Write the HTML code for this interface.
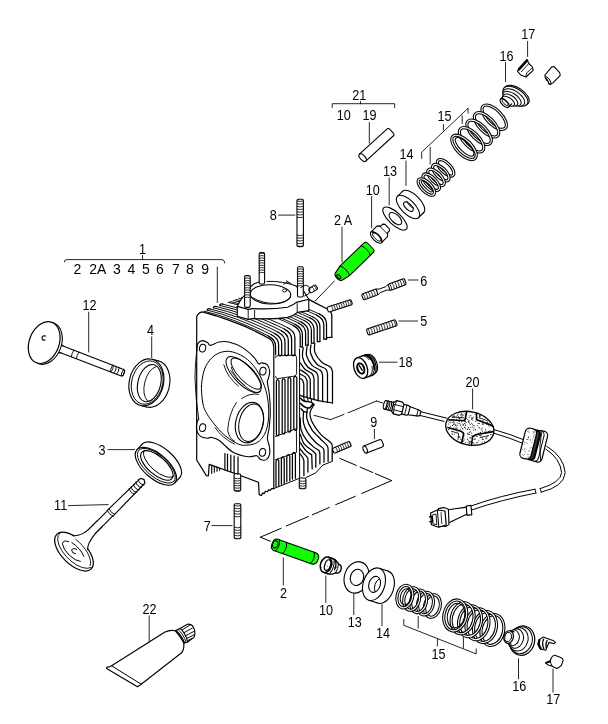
<!DOCTYPE html>
<html><head><meta charset="utf-8"><title>Cylinder head parts diagram</title>
<style>
html,body{margin:0;padding:0;background:#fff}
svg{display:block}
svg text{font-family:"Liberation Sans",sans-serif;fill:#000;stroke:none;filter:grayscale(1)}
</style></head><body>
<svg width="608" height="724" viewBox="0 0 608 724" stroke="#000" stroke-linecap="round" stroke-linejoin="round" fill="none">
<rect x="0" y="0" width="608" height="724" fill="#fff" stroke="none"/>
<text transform="translate(142.6 253.8) scale(0.9 1)" font-size="14" text-anchor="middle" >1</text>
<path d="M64.2,262 Q64.2,259.6 67,259.6 L222,259.6 Q224.7,259.6 224.7,263" fill="none" stroke-width="0.85" />
<line x1="142.6" y1="255.3" x2="142.6" y2="259.6" stroke-width="0.85" />
<text transform="translate(77.4 274.4) scale(1.0 1)" font-size="14" text-anchor="middle" >2</text>
<text transform="translate(97.8 274.4) scale(1.0 1)" font-size="14" text-anchor="middle" >2A</text>
<text transform="translate(117.0 274.4) scale(1.0 1)" font-size="14" text-anchor="middle" >3</text>
<text transform="translate(131.3 274.4) scale(1.0 1)" font-size="14" text-anchor="middle" >4</text>
<text transform="translate(145.8 274.4) scale(1.0 1)" font-size="14" text-anchor="middle" >5</text>
<text transform="translate(160.0 274.4) scale(1.0 1)" font-size="14" text-anchor="middle" >6</text>
<text transform="translate(175.9 274.4) scale(1.0 1)" font-size="14" text-anchor="middle" >7</text>
<text transform="translate(189.9 274.4) scale(1.0 1)" font-size="14" text-anchor="middle" >8</text>
<text transform="translate(205.2 274.4) scale(1.0 1)" font-size="14" text-anchor="middle" >9</text>
<line x1="217.3" y1="267.0" x2="217.3" y2="302.5" stroke-width="0.85" />
<text transform="translate(89.5 309.8) scale(0.9 1)" font-size="14" text-anchor="middle" >12</text>
<text transform="translate(150.4 334.8) scale(0.9 1)" font-size="14" text-anchor="middle" >4</text>
<text transform="translate(102.0 454.6) scale(0.9 1)" font-size="14" text-anchor="middle" >3</text>
<text transform="translate(60.6 510.1) scale(0.9 1)" font-size="14" text-anchor="middle" >11</text>
<text transform="translate(207.3 530.7) scale(0.9 1)" font-size="14" text-anchor="middle" >7</text>
<text transform="translate(149.6 613.8) scale(0.9 1)" font-size="14" text-anchor="middle" >22</text>
<text transform="translate(283.4 598.1) scale(0.9 1)" font-size="14" text-anchor="middle" >2</text>
<text transform="translate(326.0 614.6) scale(0.9 1)" font-size="14" text-anchor="middle" >10</text>
<text transform="translate(354.7 626.5) scale(0.9 1)" font-size="14" text-anchor="middle" >13</text>
<text transform="translate(383.0 637.8) scale(0.9 1)" font-size="14" text-anchor="middle" >14</text>
<text transform="translate(438.4 658.9) scale(0.9 1)" font-size="14" text-anchor="middle" >15</text>
<text transform="translate(519.3 690.8) scale(0.9 1)" font-size="14" text-anchor="middle" >16</text>
<text transform="translate(553.2 704.2) scale(0.9 1)" font-size="14" text-anchor="middle" >17</text>
<text transform="translate(472.6 387.0) scale(0.9 1)" font-size="14" text-anchor="middle" >20</text>
<text transform="translate(373.8 426.9) scale(0.9 1)" font-size="14" text-anchor="middle" >9</text>
<text transform="translate(405.6 367.2) scale(0.9 1)" font-size="14" text-anchor="middle" >18</text>
<text transform="translate(423.7 326.1) scale(0.9 1)" font-size="14" text-anchor="middle" >5</text>
<text transform="translate(423.7 285.6) scale(0.9 1)" font-size="14" text-anchor="middle" >6</text>
<text transform="translate(273.2 219.6) scale(0.9 1)" font-size="14" text-anchor="middle" >8</text>
<text transform="translate(343.1 225.1) scale(0.9 1)" font-size="14" text-anchor="middle" >2 A</text>
<text transform="translate(372.7 195.1) scale(0.9 1)" font-size="14" text-anchor="middle" >10</text>
<text transform="translate(390.0 176.3) scale(0.9 1)" font-size="14" text-anchor="middle" >13</text>
<text transform="translate(406.6 159.4) scale(0.9 1)" font-size="14" text-anchor="middle" >14</text>
<text transform="translate(444.4 120.7) scale(0.9 1)" font-size="14" text-anchor="middle" >15</text>
<text transform="translate(506.5 60.6) scale(0.9 1)" font-size="14" text-anchor="middle" >16</text>
<text transform="translate(528.2 39.4) scale(0.9 1)" font-size="14" text-anchor="middle" >17</text>
<text transform="translate(359.2 99.8) scale(0.9 1)" font-size="14" text-anchor="middle" >21</text>
<text transform="translate(343.7 119.6) scale(0.9 1)" font-size="14" text-anchor="middle" >10</text>
<text transform="translate(369.4 120.0) scale(0.9 1)" font-size="14" text-anchor="middle" >19</text>
<line x1="88.7" y1="312.1" x2="88.7" y2="352.0" stroke-width="0.85" />
<line x1="151.7" y1="336.8" x2="151.7" y2="357.6" stroke-width="0.85" />
<line x1="108.0" y1="449.6" x2="134.5" y2="449.6" stroke-width="0.85" />
<line x1="68.5" y1="505.6" x2="108.0" y2="504.6" stroke-width="0.85" />
<line x1="211.8" y1="525.6" x2="232.0" y2="525.6" stroke-width="0.85" />
<line x1="149.2" y1="615.9" x2="149.2" y2="641.3" stroke-width="0.85" />
<line x1="283.3" y1="557.7" x2="283.3" y2="585.0" stroke-width="0.85" />
<line x1="325.8" y1="576.0" x2="325.8" y2="602.6" stroke-width="0.85" />
<line x1="353.8" y1="593.3" x2="353.8" y2="614.6" stroke-width="0.85" />
<line x1="382.0" y1="604.1" x2="382.0" y2="625.8" stroke-width="0.85" />
<line x1="518.5" y1="658.7" x2="518.5" y2="678.8" stroke-width="0.85" />
<line x1="553.0" y1="669.0" x2="553.0" y2="692.2" stroke-width="0.85" />
<line x1="472.6" y1="389.0" x2="472.6" y2="409.0" stroke-width="0.85" />
<line x1="374.4" y1="429.3" x2="374.4" y2="438.7" stroke-width="0.85" />
<line x1="379.3" y1="362.2" x2="397.1" y2="362.2" stroke-width="0.85" />
<line x1="398.9" y1="321.0" x2="417.7" y2="321.0" stroke-width="0.85" />
<line x1="408.2" y1="280.0" x2="418.1" y2="280.0" stroke-width="0.85" />
<line x1="278.5" y1="215.1" x2="294.9" y2="215.1" stroke-width="0.85" />
<line x1="342.0" y1="227.0" x2="342.0" y2="262.0" stroke-width="0.85" />
<line x1="371.6" y1="196.6" x2="371.6" y2="228.0" stroke-width="0.85" />
<line x1="389.2" y1="177.8" x2="389.2" y2="205.0" stroke-width="0.85" />
<line x1="406.0" y1="161.0" x2="406.0" y2="185.5" stroke-width="0.85" />
<line x1="505.5" y1="62.5" x2="505.5" y2="81.6" stroke-width="0.85" />
<line x1="527.6" y1="41.4" x2="527.6" y2="56.5" stroke-width="0.85" />
<line x1="369.3" y1="122.5" x2="369.3" y2="143.2" stroke-width="0.85" />
<path d="M332.2,107.6 L332.2,103.7 L394.6,103.7 L394.6,107.6" fill="none" stroke-width="0.85" />
<line x1="360.5" y1="101.5" x2="360.5" y2="103.7" stroke-width="0.85" />
<path d="M421.7,158.5 L421.7,152.2 L468.1,108.2 L468.1,113" fill="none" stroke-width="0.85" />
<line x1="443.4" y1="124.5" x2="443.4" y2="130.0" stroke-width="0.85" />
<line x1="430.2" y1="147.2" x2="430.2" y2="164.0" stroke-width="0.85" />
<line x1="462.2" y1="115.7" x2="462.2" y2="123.5" stroke-width="0.85" />
<path d="M403.8,619.3 L403.8,625.3 L476.2,653.9 L476.2,648.9" fill="none" stroke-width="0.85" />
<line x1="437.4" y1="639.1" x2="437.4" y2="646.0" stroke-width="0.85" />
<line x1="418.2" y1="616.4" x2="418.2" y2="628.2" stroke-width="0.85" />
<line x1="463.4" y1="637.1" x2="463.4" y2="648.0" stroke-width="0.85" />
<path d="M196.8,316.0 L198.4,313.2 L205.6,311.4 L237.0,300.5 L244.0,295.0 L254.0,283.5 L264.0,281.0 L303.0,289.0 L309.0,299.0 L315.0,302.5 L328.0,309.0 L332.0,315.0 L332.0,336.6 L315.0,343.5 L315.0,352.0 L321.5,362.0 L331.4,367.6 L332.5,372.0 L332.5,403.0 L312.0,404.0 L310.5,412.0 L316.0,424.0 L326.0,436.0 L332.2,444.0 L332.2,461.4 L323.0,465.0 L315.6,473.0 L306.0,477.4 L298.0,478.8 L273.6,488.6 L261.0,495.6 L258.6,482.4 L209.2,464.4 L208.2,476.0 L206.2,475.4 L196.6,460.0 Z" fill="#fff" stroke-width="0" stroke="none"/>
<path d="M204.3,311.2 L218.6,315.2 L232.8,320.0 L247.1,325.8 L261.3,332.4 L268.5,336.1" fill="none" stroke-width="0.95" />
<path d="M268.5,336.1 Q275.6,340.0 275.6,346.0 L275.6,354.5" fill="none" stroke-width="1.25" />
<path d="M207.2,310.1 L221.5,314.0 L235.8,318.9 L250.0,324.6 L264.3,331.2 L271.5,334.8" fill="none" stroke-width="0.95" />
<path d="M271.5,334.8 Q278.6,338.6 278.6,344.6 L278.6,354.5" fill="none" stroke-width="1.25" />
<path d="M210.2,309.0 L224.5,312.9 L238.8,317.6 L253.1,323.3 L267.4,329.8 L274.5,333.4" fill="none" stroke-width="0.95" />
<path d="M274.5,333.4 Q281.7,337.3 281.7,343.3 L281.7,354.5" fill="none" stroke-width="1.25" />
<path d="M207.2,310.1 Q207.4,308.1 210.2,309.0" fill="none" stroke-width="1.25" />
<path d="M278.6,354.5 Q280.1,357.4 281.7,354.5" fill="none" stroke-width="1.25" />
<path d="M213.4,307.8 L227.7,311.6 L242.0,316.3 L256.3,321.9 L270.7,328.4 L277.8,332.0" fill="none" stroke-width="0.95" />
<path d="M277.8,332.0 Q285.0,335.8 285.0,341.8 L285.0,354.5" fill="none" stroke-width="1.25" />
<path d="M216.5,306.6 L230.9,310.4 L245.2,315.0 L259.6,320.6 L273.9,327.0 L281.1,330.6" fill="none" stroke-width="0.95" />
<path d="M281.1,330.6 Q288.3,334.3 288.3,340.3 L288.3,354.5" fill="none" stroke-width="1.25" />
<path d="M213.4,307.8 Q213.6,305.8 216.5,306.6" fill="none" stroke-width="1.25" />
<path d="M285.0,354.5 Q286.6,357.4 288.3,354.5" fill="none" stroke-width="1.25" />
<path d="M219.7,305.4 L234.1,309.1 L248.5,313.7 L262.8,319.2 L277.2,325.6 L284.4,329.1" fill="none" stroke-width="0.95" />
<path d="M284.4,329.1 Q291.6,332.9 291.6,338.9 L291.6,354.5" fill="none" stroke-width="1.25" />
<path d="M222.9,304.2 L237.3,307.9 L251.7,312.4 L266.1,317.9 L280.5,324.2 L287.7,327.7" fill="none" stroke-width="0.95" />
<path d="M287.7,327.7 Q294.9,331.4 294.9,337.4 L294.9,354.5" fill="none" stroke-width="1.25" />
<path d="M219.7,305.4 Q219.9,303.4 222.9,304.2" fill="none" stroke-width="1.25" />
<path d="M291.6,354.5 Q293.2,357.4 294.9,354.5" fill="none" stroke-width="1.25" />
<path d="M228.0,302.3 L242.4,305.9 L256.9,310.3 L271.3,315.7 L285.8,321.9 L293.0,325.4" fill="none" stroke-width="0.95" />
<path d="M293.0,325.4 Q300.2,329.0 300.2,335.5 L300.2,346.8" fill="none" stroke-width="1.25" />
<path d="M230.1,301.5 L244.6,305.0 L259.0,309.5 L273.5,314.8 L287.9,321.0 L295.2,324.4" fill="none" stroke-width="0.95" />
<path d="M295.2,324.4 Q302.4,328.1 302.4,334.6 L302.4,346.8" fill="none" stroke-width="1.25" />
<line x1="300.2" y1="346.8" x2="302.4" y2="346.8" stroke-width="1.25" />
<path d="M233.2,300.4 L247.7,303.8 L262.2,308.2 L276.6,313.5 L291.1,319.6 L298.4,323.0" fill="none" stroke-width="0.95" />
<path d="M298.4,323.0 Q305.6,326.6 305.6,333.1 L305.6,345.2" fill="none" stroke-width="1.25" />
<path d="M235.7,299.4 L250.2,302.9 L264.7,307.2 L279.2,312.4 L293.7,318.5 L300.9,321.9" fill="none" stroke-width="0.95" />
<path d="M300.9,321.9 Q308.2,325.5 308.2,332.0 L308.2,345.2" fill="none" stroke-width="1.25" />
<line x1="305.6" y1="345.2" x2="308.2" y2="345.2" stroke-width="1.25" />
<path d="M238.8,298.3 L253.3,301.6 L267.8,305.9 L282.3,311.1 L296.9,317.1 L304.1,320.5" fill="none" stroke-width="0.95" />
<path d="M304.1,320.5 Q311.4,324.0 311.4,330.5 L311.4,343.0" fill="none" stroke-width="1.25" />
<path d="M241.3,297.3 L255.8,300.7 L270.4,304.9 L284.9,310.0 L299.5,316.0 L306.7,319.3" fill="none" stroke-width="0.95" />
<path d="M306.7,319.3 Q314.0,322.9 314.0,329.4 L314.0,343.0" fill="none" stroke-width="1.25" />
<line x1="311.4" y1="343.0" x2="314.0" y2="343.0" stroke-width="1.25" />
<path d="M244.4,296.1 L259.0,299.4 L273.6,303.6 L288.2,308.6 L302.7,314.6 L310.0,317.9" fill="none" stroke-width="0.95" />
<path d="M310.0,317.9 Q317.3,321.4 317.3,327.9 L317.3,341.6" fill="none" stroke-width="1.25" />
<path d="M246.9,295.2 L261.5,298.4 L276.1,302.6 L290.7,307.6 L305.3,313.5 L312.6,316.8" fill="none" stroke-width="0.95" />
<path d="M312.6,316.8 Q319.9,320.3 319.9,326.8 L319.9,341.6" fill="none" stroke-width="1.25" />
<line x1="317.3" y1="341.6" x2="319.9" y2="341.6" stroke-width="1.25" />
<path d="M250.7,293.8 L265.3,297.0 L279.9,301.0 L294.6,306.0 L309.2,311.8 L316.5,315.1" fill="none" stroke-width="0.95" />
<path d="M316.5,315.1 Q323.8,318.5 323.8,325.0 L323.8,339.0" fill="none" stroke-width="1.25" />
<path d="M253.3,292.8 L267.9,295.9 L282.6,300.0 L297.2,304.9 L311.9,310.7 L319.2,313.9" fill="none" stroke-width="0.95" />
<path d="M319.2,313.9 Q326.5,317.3 326.5,323.8 L326.5,339.0" fill="none" stroke-width="1.25" />
<line x1="323.8" y1="339.0" x2="326.5" y2="339.0" stroke-width="1.25" />
<path d="M308.8,299.4 L314.8,302.6 L327.8,309.2 Q331.8,311.6 331.8,316 L331.8,337.4" fill="none" stroke-width="1.25" />
<path d="M326.5,339.0 L326.5,337.6 L331.8,337.4" fill="none" stroke-width="1.25" />
<line x1="299.6" y1="349.0" x2="299.6" y2="478.4" stroke-width="1.0" />
<path d="M269.6,338.8 L262.0,334.6 L245.0,326.4 L230.0,320.6 L216.0,315.8 L202.6,311.9 Q198.0,312.6 196.7,316.8 L196.7,460 L206.4,475.6 L208.4,476 L209.2,464.4 L233.6,473 L258.5,482.2 L259.2,494.8 L261.4,495.6 L262.6,493.0 L264.0,493.6 L265.6,491.2 L267.2,491.8 L268.6,489.8 L270.4,490.2 L271.6,488.6 L273.6,488.6" fill="none" stroke-width="1.2" />
<path d="M269.6,338.8 Q273.2,341.2 273.8,347.0 L273.8,488.6" fill="none" stroke-width="1.2" />
<path d="M197.0,349.4 C197.1,348.4 196.9,345.1 197.8,343.6 C198.7,342.1 201.0,340.8 202.6,340.6 C204.2,340.4 206.3,341.8 207.6,342.6 C208.9,343.4 208.5,345.5 210.4,345.4 C212.3,345.3 215.9,342.6 219.0,342.0 C222.1,341.4 224.8,341.1 228.7,342.0 C232.6,342.9 238.0,344.9 242.2,347.4 C246.4,349.9 251.1,354.4 253.8,357.1 C256.5,359.8 257.3,362.9 258.6,363.8 C259.9,364.8 260.1,362.6 261.6,362.8 C263.1,363.0 266.0,363.3 267.4,364.8 C268.8,366.3 269.5,369.4 269.7,371.6 C269.9,373.9 268.8,376.5 268.4,378.3 C268.0,380.1 267.2,379.6 267.4,382.2 C267.5,384.8 268.8,389.0 269.3,393.8 C269.8,398.6 270.3,405.7 270.3,411.2 C270.3,416.7 269.8,422.2 269.3,426.7 C268.8,431.2 267.4,435.1 267.4,438.3 C267.4,441.5 268.9,443.4 269.3,446.0 C269.7,448.6 270.2,451.5 269.7,453.8 C269.2,456.1 267.9,458.6 266.4,459.6 C264.9,460.6 262.2,460.2 260.6,459.6 C259.0,459.0 258.8,456.2 256.7,455.7 C254.6,455.2 252.0,457.3 248.0,456.7 C244.0,456.1 237.4,454.6 232.6,451.9 C227.8,449.2 222.6,442.7 219.0,440.3 C215.4,437.9 213.2,437.7 211.3,437.4 C209.4,437.1 209.2,438.5 207.4,438.3 C205.6,438.1 202.4,437.7 200.6,436.4 C198.8,435.1 197.4,432.9 196.8,430.6 C196.2,428.3 196.5,424.7 196.8,422.8 C197.1,420.9 198.4,419.6 198.7,419.0" fill="none" stroke-width="1.1" />
<path d="M198.7,419 Q195.6,400 195.0,378 Q195.4,360 197.0,349.4" fill="none" stroke-width="0.9" />
<path d="M202.6,401.6 C201.9,397.1 201.1,390.0 201.6,384.2 C202.1,378.4 203.2,371.6 205.5,366.8 C207.8,362.0 211.2,357.7 215.1,355.1 C219.0,352.5 223.8,351.0 228.7,351.3 C233.5,351.6 239.7,354.2 244.2,357.1 C248.7,360.0 252.4,363.9 255.8,368.7 C259.2,373.5 262.4,380.3 264.5,386.1 C266.6,391.9 267.7,397.7 268.3,403.5 C268.9,409.3 268.9,415.8 268.3,420.9 C267.7,426.0 266.3,430.8 264.5,434.4 C262.7,437.9 260.4,440.4 257.7,442.2 C254.9,444.0 251.2,444.8 248.0,445.1 C244.8,445.4 242.3,445.7 238.4,444.1 C234.5,442.5 229.0,438.9 224.8,435.4 C220.6,431.8 216.4,426.8 213.2,422.8 C210.0,418.8 207.3,414.7 205.5,411.2 C203.7,407.7 203.2,406.1 202.6,401.6 Z" fill="none" stroke-width="1.0" />
<ellipse cx="202.6" cy="348.2" rx="3.1" ry="3.9" transform="rotate(10.0 202.6 348.2)" fill="#fff" stroke-width="1.0" />
<ellipse cx="262.9" cy="371.2" rx="3.1" ry="3.9" transform="rotate(10.0 262.9 371.2)" fill="#fff" stroke-width="1.0" />
<ellipse cx="202.6" cy="427.7" rx="3.1" ry="3.9" transform="rotate(10.0 202.6 427.7)" fill="#fff" stroke-width="1.0" />
<ellipse cx="262.5" cy="452.4" rx="3.1" ry="3.9" transform="rotate(10.0 262.5 452.4)" fill="#fff" stroke-width="1.0" />
<ellipse cx="243.6" cy="374.6" rx="23.4" ry="9.4" transform="rotate(46.0 243.6 374.6)" fill="none" stroke-width="1.0" />
<ellipse cx="246.2" cy="373.6" rx="20.4" ry="7.4" transform="rotate(46.0 246.2 373.6)" fill="none" stroke-width="1.0" />
<path d="M230.0,364.6 A20.4,7.4 46 0 0 259.6,388.6" stroke-width="0.9" transform="translate(1.2,2.6)"/>
<path d="M223.8,364.8 Q227.6,377.6 238.4,386.1" fill="none" stroke-width="0.9" />
<path d="M230.6,370.6 Q236,380 245,385.6" fill="none" stroke-width="0.8" />
<ellipse cx="249.4" cy="422.6" rx="13.6" ry="20.6" transform="rotate(14.0 249.4 422.6)" fill="none" stroke-width="1.1" />
<ellipse cx="251.2" cy="422.8" rx="12.0" ry="19.0" transform="rotate(14.0 251.2 422.8)" fill="none" stroke-width="1.0" />
<path d="M236.4,402.5 Q228.6,414 227.7,430.6 Q229.6,439 234.5,441.2" fill="none" stroke-width="0.9" />
<path d="M215.1,427.7 Q222,438 234.5,444.1" fill="none" stroke-width="0.9" />
<path d="M241.6,398.6 Q250,392.6 258.6,394.4" fill="none" stroke-width="0.9" />
<path d="M237.3,306.4 L237.3,316.2 L248.2,319.4 L253.1,318.6 L287.6,317.4 L297.5,312.4 L308.8,310.6 L308.8,299.2 L303.6,291.0 L296.0,286.6 L281.0,281.4 L264.0,281.0 L254.1,283.7 L244.2,295.5 Z" fill="#fff" stroke-width="0" stroke="none"/>
<path d="M237.3,306.4 L237.3,316.2 L248.2,319.4 L253.1,318.6 Q272,319.6 287.6,317.4 Q294,315.6 297.5,312.4 L308.8,310.6 L308.8,299.2" fill="none" stroke-width="1.1" />
<path d="M237.3,306.4 L248.2,309.4 L252.6,308.6 Q272,309.6 287.6,307.2 Q293.6,305 296.4,302.4 L308.8,299.2 L303.6,291.0 Q300.0,288.0 296,286.6" fill="none" stroke-width="1.1" />
<path d="M237.3,306.4 Q239.6,300.6 244.2,295.5 Q248.6,287.6 254.1,283.7 Q259,281.6 264,281.2" fill="none" stroke-width="1.1" />
<path d="M267,281.4 Q282,280.6 297.6,286.4" fill="none" stroke-width="1.0" />
<line x1="248.2" y1="309.4" x2="248.2" y2="319.4" stroke-width="0.9" />
<line x1="254.6" y1="310.2" x2="254.6" y2="318.2" stroke-width="0.9" />
<line x1="297.2" y1="303.6" x2="297.2" y2="312.2" stroke-width="0.9" />
<ellipse cx="270.6" cy="294.4" rx="20.2" ry="9.6" transform="rotate(2.0 270.6 294.4)" fill="#fff" stroke-width="1.1" />
<path d="M252.6,297.6 Q262,303.6 276,303.4 Q286,302.6 290.4,297.6" fill="none" stroke-width="0.9" />
<ellipse cx="284.6" cy="290.4" rx="2.0" ry="1.6" transform="rotate(0.0 284.6 290.4)" fill="none" stroke-width="0.9" />
<path d="M250.2,305.8 L250.2,277.2 Q250.2,275.6 248.8,275.6 L246.0,275.6 Q244.6,275.6 244.6,277.2 L244.6,305.8 Q244.6,307.4 246.0,307.4 L248.8,307.4 Q250.2,307.4 250.2,305.8 Z" fill="#fff" stroke-width="1.1" />
<path d="M250.2,297.6 Q247.4,296.6 244.6,297.6" fill="none" stroke-width="0.95" stroke="#222"/>
<path d="M250.2,295.2 Q247.4,294.2 244.6,295.2" fill="none" stroke-width="0.95" stroke="#222"/>
<path d="M250.2,292.8 Q247.4,291.8 244.6,292.8" fill="none" stroke-width="0.95" stroke="#222"/>
<path d="M250.2,290.4 Q247.4,289.4 244.6,290.4" fill="none" stroke-width="0.95" stroke="#222"/>
<path d="M250.2,288.1 Q247.4,287.1 244.6,288.1" fill="none" stroke-width="0.95" stroke="#222"/>
<path d="M250.2,285.6 Q247.4,284.6 244.6,285.6" fill="none" stroke-width="0.95" stroke="#222"/>
<path d="M250.2,283.2 Q247.4,282.2 244.6,283.2" fill="none" stroke-width="0.95" stroke="#222"/>
<path d="M250.2,280.9 Q247.4,279.9 244.6,280.9" fill="none" stroke-width="0.95" stroke="#222"/>
<path d="M250.2,278.4 Q247.4,277.4 244.6,278.4" fill="none" stroke-width="0.95" stroke="#222"/>
<path d="M264.6,282.4 L264.6,254.2 Q264.6,252.6 263.2,252.6 L260.6,252.6 Q259.2,252.6 259.2,254.2 L259.2,282.4 Q259.2,284.0 260.6,284.0 L263.2,284.0 Q264.6,284.0 264.6,282.4 Z" fill="#fff" stroke-width="1.1" />
<path d="M264.6,272.8 Q261.9,271.8 259.2,272.8" fill="none" stroke-width="0.95" stroke="#222"/>
<path d="M264.6,270.4 Q261.9,269.4 259.2,270.4" fill="none" stroke-width="0.95" stroke="#222"/>
<path d="M264.6,268.0 Q261.9,267.0 259.2,268.0" fill="none" stroke-width="0.95" stroke="#222"/>
<path d="M264.6,265.6 Q261.9,264.6 259.2,265.6" fill="none" stroke-width="0.95" stroke="#222"/>
<path d="M264.6,263.2 Q261.9,262.2 259.2,263.2" fill="none" stroke-width="0.95" stroke="#222"/>
<path d="M264.6,260.8 Q261.9,259.8 259.2,260.8" fill="none" stroke-width="0.95" stroke="#222"/>
<path d="M264.6,258.4 Q261.9,257.4 259.2,258.4" fill="none" stroke-width="0.95" stroke="#222"/>
<path d="M264.6,256.0 Q261.9,255.0 259.2,256.0" fill="none" stroke-width="0.95" stroke="#222"/>
<path d="M264.6,253.6 Q261.9,252.6 259.2,253.6" fill="none" stroke-width="0.95" stroke="#222"/>
<path d="M303.3,295.4 L303.3,268.4 Q303.3,266.8 301.9,266.8 L298.9,266.8 Q297.5,266.8 297.5,268.4 L297.5,295.4 Q297.5,297.0 298.9,297.0 L301.9,297.0 Q303.3,297.0 303.3,295.4 Z" fill="#fff" stroke-width="1.1" />
<path d="M303.3,286.1 Q300.4,285.1 297.5,286.1" fill="none" stroke-width="0.95" stroke="#222"/>
<path d="M303.3,283.7 Q300.4,282.7 297.5,283.7" fill="none" stroke-width="0.95" stroke="#222"/>
<path d="M303.3,281.3 Q300.4,280.3 297.5,281.3" fill="none" stroke-width="0.95" stroke="#222"/>
<path d="M303.3,278.9 Q300.4,277.9 297.5,278.9" fill="none" stroke-width="0.95" stroke="#222"/>
<path d="M303.3,276.5 Q300.4,275.5 297.5,276.5" fill="none" stroke-width="0.95" stroke="#222"/>
<path d="M303.3,274.1 Q300.4,273.1 297.5,274.1" fill="none" stroke-width="0.95" stroke="#222"/>
<path d="M303.3,271.7 Q300.4,270.7 297.5,271.7" fill="none" stroke-width="0.95" stroke="#222"/>
<path d="M303.3,269.3 Q300.4,268.3 297.5,269.3" fill="none" stroke-width="0.95" stroke="#222"/>
<path d="M312.3,292.4 L316.6,289.6 Q318.0,288.7 317.2,287.5 L316.0,285.7 Q315.2,284.5 313.9,285.4 L309.6,288.2 Q308.2,289.1 309.0,290.3 L310.2,292.1 Q311.0,293.3 312.3,292.4 Z" fill="#fff" stroke-width="1.1" />
<path d="M314.6,290.9 Q314.0,288.3 311.8,286.7" fill="none" stroke-width="0.95" stroke="#222"/>
<path d="M316.6,289.6 Q316.0,287.0 313.8,285.4" fill="none" stroke-width="0.95" stroke="#222"/>
<path d="M300.6,287.6 L306.0,285.0 L310.0,287.6 L309.0,293.6 L304.6,296" fill="none" stroke-width="0.9" />
<path d="M283.6,284.2 L287.6,281.6 L291.0,283.6 M286.6,280.6 L288.6,283.4" fill="none" stroke-width="0.9" />
<path d="M329.9,311.8 L351.1,305.0 Q352.6,304.5 352.2,303.1 L351.4,300.9 Q351.0,299.5 349.5,300.0 L328.3,306.8 Q326.8,307.3 327.2,308.7 L328.0,310.9 Q328.4,312.3 329.9,311.8 Z" fill="#fff" stroke-width="1.1" />
<path d="M333.0,310.8 Q333.2,308.0 331.4,305.8" fill="none" stroke-width="0.95" stroke="#222"/>
<path d="M335.3,310.1 Q335.5,307.3 333.7,305.1" fill="none" stroke-width="0.95" stroke="#222"/>
<path d="M337.6,309.3 Q337.7,306.5 336.0,304.4" fill="none" stroke-width="0.95" stroke="#222"/>
<path d="M339.9,308.6 Q340.0,305.8 338.3,303.6" fill="none" stroke-width="0.95" stroke="#222"/>
<path d="M342.2,307.8 Q342.3,305.1 340.6,302.9" fill="none" stroke-width="0.95" stroke="#222"/>
<path d="M344.4,307.1 Q344.6,304.3 342.8,302.2" fill="none" stroke-width="0.95" stroke="#222"/>
<path d="M346.7,306.4 Q346.9,303.6 345.1,301.4" fill="none" stroke-width="0.95" stroke="#222"/>
<path d="M349.0,305.6 Q349.2,302.9 347.4,300.7" fill="none" stroke-width="0.95" stroke="#222"/>
<path d="M351.3,304.9 Q351.4,302.1 349.7,299.9" fill="none" stroke-width="0.95" stroke="#222"/>
<path d="M335.7,452.8 L350.0,446.7 Q351.5,446.1 350.9,444.8 L349.9,442.4 Q349.3,441.1 347.9,441.8 L333.6,447.9 Q332.1,448.5 332.7,449.8 L333.7,452.2 Q334.3,453.5 335.7,452.8 Z" fill="#fff" stroke-width="1.1" />
<path d="M337.6,452.0 Q337.5,449.2 335.5,447.1" fill="none" stroke-width="0.95" stroke="#222"/>
<path d="M339.8,451.1 Q339.7,448.2 337.7,446.1" fill="none" stroke-width="0.95" stroke="#222"/>
<path d="M342.0,450.1 Q341.9,447.3 339.9,445.2" fill="none" stroke-width="0.95" stroke="#222"/>
<path d="M344.3,449.2 Q344.1,446.3 342.1,444.2" fill="none" stroke-width="0.95" stroke="#222"/>
<path d="M346.5,448.2 Q346.3,445.4 344.3,443.3" fill="none" stroke-width="0.95" stroke="#222"/>
<path d="M348.7,447.3 Q348.5,444.4 346.5,442.3" fill="none" stroke-width="0.95" stroke="#222"/>
<path d="M350.9,446.3 Q350.7,443.5 348.7,441.4" fill="none" stroke-width="0.95" stroke="#222"/>
<path d="M234.1,475.4 L234.1,489.6 Q234.1,491.2 235.5,491.2 L239.3,491.2 Q240.7,491.2 240.7,489.6 L240.7,475.4 Q240.7,473.8 239.3,473.8 L235.5,473.8 Q234.1,473.8 234.1,475.4 Z" fill="#fff" stroke-width="1.1" />
<path d="M234.1,478.2 Q237.4,479.2 240.7,478.2" fill="none" stroke-width="0.95" stroke="#222"/>
<path d="M234.1,480.6 Q237.4,481.6 240.7,480.6" fill="none" stroke-width="0.95" stroke="#222"/>
<path d="M234.1,483.0 Q237.4,484.0 240.7,483.0" fill="none" stroke-width="0.95" stroke="#222"/>
<path d="M234.1,485.4 Q237.4,486.4 240.7,485.4" fill="none" stroke-width="0.95" stroke="#222"/>
<path d="M234.1,487.8 Q237.4,488.8 240.7,487.8" fill="none" stroke-width="0.95" stroke="#222"/>
<path d="M234.1,490.2 Q237.4,491.2 240.7,490.2" fill="none" stroke-width="0.95" stroke="#222"/>
<path d="M299.3,479.6 L299.3,487.2 Q299.3,488.8 300.7,488.8 L304.5,488.8 Q305.9,488.8 305.9,487.2 L305.9,479.6 Q305.9,478.0 304.5,478.0 L300.7,478.0 Q299.3,478.0 299.3,479.6 Z" fill="#fff" stroke-width="1.1" />
<path d="M299.3,480.9 Q302.6,481.9 305.9,480.9" fill="none" stroke-width="0.95" stroke="#222"/>
<path d="M299.3,483.3 Q302.6,484.3 305.9,483.3" fill="none" stroke-width="0.95" stroke="#222"/>
<path d="M299.3,485.7 Q302.6,486.7 305.9,485.7" fill="none" stroke-width="0.95" stroke="#222"/>
<path d="M299.3,488.1 Q302.6,489.1 305.9,488.1" fill="none" stroke-width="0.95" stroke="#222"/>
<path d="M275.6,357.6 Q275.0,356.0 277.0,355.8 L294.6,355.2 Q296.6,355.4 296.6,357.6 L296.6,373.6 Q296.4,375.6 294.0,376.2 L277.6,378.6 Q275.6,378.6 275.6,376.6" fill="none" stroke-width="0.9" />
<path d="M276.4,434.6 L276.4,381.1 Q277.7,378.1 279.0,381.1 L279.0,434.6 Q277.7,437.0 276.4,434.6" fill="none" stroke-width="1.25" />
<path d="M282.2,432.8 L282.2,380.0 Q283.6,377.0 285.0,380.0 L285.0,432.8 Q283.6,435.2 282.2,432.8" fill="none" stroke-width="1.25" />
<path d="M288.0,431.0 L288.0,378.9 Q289.4,375.9 290.8,378.9 L290.8,431.0 Q289.4,433.4 288.0,431.0" fill="none" stroke-width="1.25" />
<path d="M293.8,429.2 L293.8,377.8 Q295.3,374.8 296.8,377.8 L296.8,429.2 Q295.3,431.6 293.8,429.2" fill="none" stroke-width="1.25" />
<path d="M275.4,436.4 L296.4,428.6 L296.6,452.4 L275.6,459.6" fill="none" stroke-width="0.9" />
<path d="M276.0,486.8 L276.0,460.9 Q277.4,457.6 278.8,460.9 L278.8,486.0" fill="none" stroke-width="1.25" />
<path d="M281.4,484.2 L281.4,458.6 Q282.8,455.3 284.2,458.6 L284.2,483.4" fill="none" stroke-width="1.25" />
<path d="M286.8,481.6 L286.8,456.3 Q288.3,453.0 289.8,456.3 L289.8,480.8" fill="none" stroke-width="1.25" />
<path d="M292.4,479.0 L292.4,454.0 Q293.9,450.7 295.4,454.0 L295.4,478.2" fill="none" stroke-width="1.25" />
<path d="M273.8,488.6 L298.6,478.6" fill="none" stroke-width="1.0" />
<path d="M314.8,343.3 C314.8,344.8 313.7,349.0 314.8,352.1 C315.9,355.2 318.9,359.5 321.5,362.0 C324.1,364.5 328.8,365.5 330.6,367.2 C332.4,368.9 332.2,371.2 332.5,372.0 L332.5,403.0" fill="none" stroke-width="1.25" />
<path d="M311.0,344.9 C310.9,346.3 309.6,350.0 310.6,353.2 C311.6,356.4 314.5,361.7 317.0,364.3 C319.5,366.9 323.9,367.3 325.6,368.9 C327.4,370.4 327.2,372.8 327.5,373.6 L327.5,402.4" fill="none" stroke-width="1.25" />
<path d="M307.1,346.6 C307.0,348.1 305.7,352.3 306.5,355.4 C307.3,358.5 309.8,362.9 312.1,365.4 C314.5,367.9 318.9,368.8 320.6,370.5 C322.4,372.2 322.3,374.6 322.6,375.4 L322.6,401.8" fill="none" stroke-width="1.25" />
<path d="M303.2,347.7 C303.1,349.4 301.9,354.4 302.7,357.6 C303.4,360.8 305.4,364.6 307.7,367.0 C309.9,369.4 314.5,370.5 316.2,372.2 C317.9,373.9 317.8,376.2 318.1,377.0 L318.1,400.7" fill="none" stroke-width="1.25" />
<path d="M300.5,363.1 C301.2,364.1 303.0,367.4 304.9,369.2 C306.8,371.0 310.6,372.2 312.1,373.8 C313.6,375.4 313.7,377.8 314.0,378.6 L314.0,399.6" fill="none" stroke-width="1.25" />
<path d="M300.5,369.8 C301.6,370.6 305.5,372.9 307.1,374.4 C308.7,375.9 309.7,378.2 310.2,379.0 L310.4,398.6" fill="none" stroke-width="1.25" />
<path d="M300.5,374.2 C301.3,374.7 304.3,376.0 305.4,377.2 C306.5,378.4 306.8,380.7 307.1,381.4 L307.1,397.6" fill="none" stroke-width="1.25" />
<path d="M300.5,378.6 C300.9,378.9 302.1,379.6 302.7,380.5 C303.2,381.4 303.6,383.4 303.8,384.0 L303.8,396.6" fill="none" stroke-width="1.25" />
<path d="M300.0,395.4 L303.8,396.6 L318.1,400.7 L332.5,403" fill="none" stroke-width="1.25" />
<path d="M314.1,404.7 C313.4,406.1 310.3,409.9 310.0,412.9 C309.7,415.9 310.7,419.2 312.5,422.8 C314.3,426.4 317.6,430.9 320.7,434.3 C323.8,437.7 329.5,440.8 331.4,443.3 C333.3,445.8 332.1,448.1 332.2,449.1 L332.2,460.6" fill="none" stroke-width="1.25" />
<path d="M307.6,408.0 C307.5,409.6 306.0,414.2 306.7,417.8 C307.4,421.4 309.4,425.7 311.7,429.3 C314.0,432.9 318.1,436.4 320.7,439.2 C323.3,441.9 326.1,443.9 327.3,445.8 C328.5,447.7 328.0,449.9 328.1,450.7 L328.1,461.4" fill="none" stroke-width="1.25" />
<path d="M303.5,411.3 C303.5,413.2 302.8,419.2 303.5,422.8 C304.2,426.4 305.6,429.3 307.6,432.6 C309.7,435.9 313.2,439.9 315.8,442.5 C318.4,445.1 321.8,446.7 323.2,448.3 C324.6,449.9 323.9,451.7 324.0,452.4 L324.0,462.2" fill="none" stroke-width="1.25" />
<path d="M300.2,417.8 C300.3,419.7 300.1,425.7 301.0,429.3 C301.9,432.9 303.7,436.2 305.9,439.2 C308.1,442.2 311.9,445.5 314.1,447.4 C316.3,449.3 318.1,449.3 319.1,450.7 C320.1,452.1 319.8,454.9 319.9,455.7 L319.9,463.9" fill="none" stroke-width="1.25" />
<path d="M300.2,434.3 C300.9,435.9 302.2,441.4 304.3,444.1 C306.4,446.8 310.6,449.1 312.5,450.7 C314.4,452.3 315.2,453.4 315.8,454.0 L315.8,467.2" fill="none" stroke-width="1.25" />
<path d="M300.2,442.5 C301.1,443.9 304.0,448.6 305.9,450.7 C307.8,452.8 310.7,454.1 311.7,454.8 L312.2,468.8" fill="none" stroke-width="1.25" />
<path d="M300.2,449.0 C300.9,449.8 303.0,452.5 304.3,454.0 C305.6,455.5 307.3,457.4 307.9,458.1 L307.9,472.1" fill="none" stroke-width="1.25" />
<path d="M300.2,454.0 C300.6,454.6 302.0,456.2 302.6,457.3 C303.2,458.4 303.7,460.1 303.9,460.6 L303.9,475.4" fill="none" stroke-width="1.25" />
<path d="M300.4,398.0 Q303,401.6 307.6,401.6 Q311.6,401.4 314.0,404.6" fill="none" stroke-width="1.3" />
<path d="M300.6,403.6 Q304.6,408.6 309.6,408.0 L312.6,404.6" fill="none" stroke-width="1.6" />
<path d="M301.0,408.6 Q303.6,412.6 307.0,412.0" fill="none" stroke-width="1.3" />
<path d="M303.6,397.0 L304.4,400.6 M307.6,398.0 L308.2,401.2 M311.2,399.0 L311.6,401.6" fill="none" stroke-width="1.0" />
<path d="M332.2,461.4 L323.0,465.0 L315.6,473.0 L306.2,477.4" fill="none" stroke-width="1.0" />
<line x1="211.7" y1="465.4" x2="211.7" y2="473.4" stroke-width="1.1" />
<line x1="214.3" y1="466.3" x2="214.3" y2="472.3" stroke-width="1.1" />
<line x1="217.0" y1="467.3" x2="217.0" y2="471.3" stroke-width="1.1" />
<line x1="219.6" y1="468.2" x2="219.6" y2="470.2" stroke-width="1.1" />
<line x1="224.9" y1="453.6" x2="224.9" y2="470.0" stroke-width="1.2" />
<line x1="227.5" y1="454.2" x2="227.5" y2="470.9" stroke-width="1.2" />
<line x1="230.8" y1="455.1" x2="230.8" y2="471.9" stroke-width="1.2" />
<line x1="234.1" y1="455.9" x2="234.1" y2="473.0" stroke-width="1.2" />
<line x1="238.0" y1="456.9" x2="238.0" y2="474.3" stroke-width="1.2" />
<line x1="339.9" y1="458.4" x2="356.3" y2="465.4" stroke-width="1.0" />
<line x1="360.1" y1="467.1" x2="372.7" y2="472.5" stroke-width="1.0" />
<line x1="375.3" y1="473.6" x2="391.7" y2="480.6" stroke-width="1.0" />
<line x1="391.7" y1="480.6" x2="361.7" y2="493.5" stroke-width="1.0" />
<line x1="355.3" y1="496.3" x2="335.7" y2="504.7" stroke-width="1.0" />
<line x1="329.3" y1="507.5" x2="312.3" y2="514.8" stroke-width="1.0" />
<line x1="308.4" y1="516.5" x2="286.3" y2="526.0" stroke-width="1.0" />
<line x1="281.1" y1="528.3" x2="260.3" y2="537.2" stroke-width="1.0" />
<path d="M334.9,274.9 L335.3,273.1 L340.1,265.9 L363.6,243.3 Q365.7,241.2 367.5,243.0 L373.3,249.0 Q375.1,250.8 372.9,252.9 L349.5,275.6 L342.1,280.2 L340.3,280.5 Q336.3,279.0 334.9,274.9 Z" fill="#10fd04" stroke-width="1.05" />
<path d="M340.1,265.9 Q347.1,268.5 349.5,275.6" fill="none" stroke-width="1.0" />
<path d="M361.1,245.7 Q368.0,248.3 370.4,255.3" fill="none" stroke-width="1.0" />
<ellipse cx="338.8" cy="276.6" rx="1.3" ry="2.6" transform="rotate(-44.0 338.8 276.6)" fill="none" stroke-width="1.0" />
<line x1="334.4" y1="281.0" x2="315.2" y2="301.0" stroke-width="0.9" />
<path d="M274.5,539.5 L277.0,539.0 L315.7,552.7 Q319.5,554.3 318.6,558.2 L317.4,561.4 Q315.7,565.0 311.8,563.9 L273.1,550.2 L271.4,548.2 Q271.1,543.2 274.5,539.5 Z" fill="#10fd04" stroke-width="1.05" />
<path d="M279.4,539.9 Q280.6,546.6 275.4,551.0" fill="none" stroke-width="1.0" />
<path d="M286.4,542.4 Q287.7,549.1 282.5,553.5" fill="none" stroke-width="1.0" />
<path d="M314.3,552.2 Q315.5,558.9 310.4,563.4" fill="none" stroke-width="1.0" />
<ellipse cx="275.3" cy="544.4" rx="2.6" ry="3.6" transform="rotate(19.5 275.3 544.4)" fill="#10fd04" stroke-width="1.0" />
<line x1="260.3" y1="537.2" x2="270.5" y2="541.3" stroke-width="1.0" />
<path d="M297.0,200.8 L297.0,245.0 Q297.0,246.6 298.4,246.6 L302.0,246.6 Q303.4,246.6 303.4,245.0 L303.4,200.8 Q303.4,199.2 302.0,199.2 L298.4,199.2 Q297.0,199.2 297.0,200.8 Z" fill="#fff" stroke-width="1.1" />
<path d="M297.0,201.0 Q300.2,202.0 303.4,201.0" fill="none" stroke-width="0.95" stroke="#222"/>
<path d="M297.0,203.7 Q300.2,204.7 303.4,203.7" fill="none" stroke-width="0.95" stroke="#222"/>
<path d="M297.0,206.4 Q300.2,207.4 303.4,206.4" fill="none" stroke-width="0.95" stroke="#222"/>
<path d="M297.0,209.1 Q300.2,210.1 303.4,209.1" fill="none" stroke-width="0.95" stroke="#222"/>
<path d="M297.0,211.8 Q300.2,212.8 303.4,211.8" fill="none" stroke-width="0.95" stroke="#222"/>
<path d="M297.0,214.5 Q300.2,215.5 303.4,214.5" fill="none" stroke-width="0.95" stroke="#222"/>
<path d="M297.0,217.2 Q300.2,218.2 303.4,217.2" fill="none" stroke-width="0.95" stroke="#222"/>
<path d="M297.0,235.1 Q300.2,236.1 303.4,235.1" fill="none" stroke-width="0.95" stroke="#222"/>
<path d="M297.0,237.8 Q300.2,238.8 303.4,237.8" fill="none" stroke-width="0.95" stroke="#222"/>
<path d="M297.0,240.5 Q300.2,241.5 303.4,240.5" fill="none" stroke-width="0.95" stroke="#222"/>
<path d="M297.0,243.2 Q300.2,244.2 303.4,243.2" fill="none" stroke-width="0.95" stroke="#222"/>
<path d="M297.0,245.9 Q300.2,246.9 303.4,245.9" fill="none" stroke-width="0.95" stroke="#222"/>
<path d="M234.2,505.4 L234.2,537.2 Q234.2,538.8 235.6,538.8 L239.4,538.8 Q240.8,538.8 240.8,537.2 L240.8,505.4 Q240.8,503.8 239.4,503.8 L235.6,503.8 Q234.2,503.8 234.2,505.4 Z" fill="#fff" stroke-width="1.1" />
<path d="M234.2,505.6 Q237.5,506.6 240.8,505.6" fill="none" stroke-width="0.95" stroke="#222"/>
<path d="M234.2,508.3 Q237.5,509.3 240.8,508.3" fill="none" stroke-width="0.95" stroke="#222"/>
<path d="M234.2,511.0 Q237.5,512.0 240.8,511.0" fill="none" stroke-width="0.95" stroke="#222"/>
<path d="M234.2,513.7 Q237.5,514.7 240.8,513.7" fill="none" stroke-width="0.95" stroke="#222"/>
<path d="M234.2,516.4 Q237.5,517.4 240.8,516.4" fill="none" stroke-width="0.95" stroke="#222"/>
<path d="M234.2,527.3 Q237.5,528.3 240.8,527.3" fill="none" stroke-width="0.95" stroke="#222"/>
<path d="M234.2,530.0 Q237.5,531.0 240.8,530.0" fill="none" stroke-width="0.95" stroke="#222"/>
<path d="M234.2,532.7 Q237.5,533.7 240.8,532.7" fill="none" stroke-width="0.95" stroke="#222"/>
<path d="M234.2,535.4 Q237.5,536.4 240.8,535.4" fill="none" stroke-width="0.95" stroke="#222"/>
<path d="M234.2,538.1 Q237.5,539.1 240.8,538.1" fill="none" stroke-width="0.95" stroke="#222"/>
<path d="M369.7,334.7 L395.9,326.1 Q397.4,325.6 397.0,324.3 L395.8,320.9 Q395.4,319.6 393.9,320.1 L367.7,328.7 Q366.2,329.2 366.6,330.5 L367.8,333.9 Q368.2,335.2 369.7,334.7 Z" fill="#fff" stroke-width="1.1" />
<path d="M369.9,334.7 Q369.9,331.3 367.9,328.6" fill="none" stroke-width="0.95" stroke="#222"/>
<path d="M372.5,333.8 Q372.4,330.5 370.5,327.8" fill="none" stroke-width="0.95" stroke="#222"/>
<path d="M375.0,333.0 Q375.0,329.6 373.0,326.9" fill="none" stroke-width="0.95" stroke="#222"/>
<path d="M377.6,332.1 Q377.6,328.8 375.6,326.1" fill="none" stroke-width="0.95" stroke="#222"/>
<path d="M380.2,331.3 Q380.1,328.0 378.2,325.2" fill="none" stroke-width="0.95" stroke="#222"/>
<path d="M382.7,330.5 Q382.7,327.1 380.7,324.4" fill="none" stroke-width="0.95" stroke="#222"/>
<path d="M385.3,329.6 Q385.2,326.3 383.3,323.5" fill="none" stroke-width="0.95" stroke="#222"/>
<path d="M387.9,328.8 Q387.8,325.4 385.9,322.7" fill="none" stroke-width="0.95" stroke="#222"/>
<path d="M390.4,327.9 Q390.4,324.6 388.4,321.9" fill="none" stroke-width="0.95" stroke="#222"/>
<path d="M393.0,327.1 Q392.9,323.7 391.0,321.0" fill="none" stroke-width="0.95" stroke="#222"/>
<path d="M395.6,326.2 Q395.5,322.9 393.6,320.2" fill="none" stroke-width="0.95" stroke="#222"/>
<path d="M365.1,299.6 L376.6,295.3 Q378.1,294.7 377.6,293.4 L376.5,290.2 Q376.0,288.9 374.5,289.5 L362.9,293.7 Q361.4,294.3 361.9,295.6 L363.1,298.8 Q363.6,300.1 365.1,299.6 Z" fill="#fff" stroke-width="1.1" />
<path d="M365.3,299.5 Q365.1,296.2 363.1,293.7" fill="none" stroke-width="0.95" stroke="#222"/>
<path d="M367.8,298.5 Q367.7,295.3 365.6,292.7" fill="none" stroke-width="0.95" stroke="#222"/>
<path d="M370.3,297.6 Q370.2,294.4 368.2,291.8" fill="none" stroke-width="0.95" stroke="#222"/>
<path d="M372.9,296.7 Q372.7,293.4 370.7,290.9" fill="none" stroke-width="0.95" stroke="#222"/>
<path d="M375.4,295.7 Q375.3,292.5 373.2,289.9" fill="none" stroke-width="0.95" stroke="#222"/>
<path d="M391.6,289.9 L404.9,285.0 Q406.4,284.4 405.9,283.1 L404.7,279.7 Q404.2,278.4 402.7,279.0 L389.4,283.8 Q387.9,284.4 388.4,285.7 L389.7,289.1 Q390.1,290.4 391.6,289.9 Z" fill="#fff" stroke-width="1.1" />
<path d="M391.8,289.8 Q391.7,286.4 389.6,283.8" fill="none" stroke-width="0.95" stroke="#222"/>
<path d="M394.4,288.8 Q394.2,285.5 392.1,282.8" fill="none" stroke-width="0.95" stroke="#222"/>
<path d="M396.9,287.9 Q396.7,284.6 394.7,281.9" fill="none" stroke-width="0.95" stroke="#222"/>
<path d="M399.4,287.0 Q399.3,283.6 397.2,281.0" fill="none" stroke-width="0.95" stroke="#222"/>
<path d="M402.0,286.0 Q401.8,282.7 399.7,280.0" fill="none" stroke-width="0.95" stroke="#222"/>
<path d="M404.5,285.1 Q404.3,281.8 402.3,279.1" fill="none" stroke-width="0.95" stroke="#222"/>
<path d="M376.0,288.9 L379.0,289.2 L385.8,286.7 L387.9,284.4" fill="none" stroke-width="1.0" />
<path d="M378.1,294.7 L380.2,292.6 L387.1,290.0 L390.1,290.4" fill="none" stroke-width="1.0" />
<ellipse cx="395.0" cy="218.6" rx="6.2" ry="15.6" transform="rotate(-47.0 395.0 218.6)" fill="#fff" stroke-width="1.1" />
<ellipse cx="395.4" cy="218.6" rx="4.0" ry="7.8" transform="rotate(-47.0 395.4 218.6)" fill="none" stroke-width="1.1" />
<ellipse cx="356.6" cy="577.4" rx="12.2" ry="16.0" transform="rotate(17.0 356.6 577.4)" fill="#fff" stroke-width="1.1" />
<ellipse cx="357.0" cy="577.4" rx="6.6" ry="8.2" transform="rotate(17.0 357.0 577.4)" fill="none" stroke-width="1.1" />
<path d="M359.4,154.1 L386.9,129.1 Q388.3,127.7 389.7,129.2 L393.3,133.2 Q394.7,134.7 393.2,136.0 L365.8,161.1" fill="#fff" stroke-width="1.1" />
<ellipse cx="362.6" cy="157.6" rx="2.4" ry="4.7" transform="rotate(-42.4 362.6 157.6)" fill="#fff" stroke-width="1.1" />
<path d="M363.8,446.1 L379.3,439.8 Q381.2,439.1 381.9,440.9 L383.3,444.3 Q384.0,446.1 382.2,446.9 L366.6,453.1" fill="#fff" stroke-width="1.1" />
<ellipse cx="365.2" cy="449.6" rx="1.9" ry="3.8" transform="rotate(-21.9 365.2 449.6)" fill="#fff" stroke-width="1.1" />
<ellipse cx="445.6" cy="167.8" rx="4.8" ry="10.6" transform="rotate(-45.0 445.6 167.8)" fill="none" stroke-width="3.2" />
<ellipse cx="445.6" cy="167.8" rx="4.8" ry="10.6" transform="rotate(-45.0 445.6 167.8)" fill="none" stroke-width="1.1" stroke="#fff"/>
<ellipse cx="440.8" cy="172.6" rx="4.8" ry="10.6" transform="rotate(-45.0 440.8 172.6)" fill="none" stroke-width="3.2" />
<ellipse cx="440.8" cy="172.6" rx="4.8" ry="10.6" transform="rotate(-45.0 440.8 172.6)" fill="none" stroke-width="1.1" stroke="#fff"/>
<ellipse cx="436.0" cy="177.4" rx="4.8" ry="10.6" transform="rotate(-45.0 436.0 177.4)" fill="none" stroke-width="3.2" />
<ellipse cx="436.0" cy="177.4" rx="4.8" ry="10.6" transform="rotate(-45.0 436.0 177.4)" fill="none" stroke-width="1.1" stroke="#fff"/>
<ellipse cx="431.2" cy="182.2" rx="4.8" ry="10.6" transform="rotate(-45.0 431.2 182.2)" fill="none" stroke-width="3.2" />
<ellipse cx="431.2" cy="182.2" rx="4.8" ry="10.6" transform="rotate(-45.0 431.2 182.2)" fill="none" stroke-width="1.1" stroke="#fff"/>
<ellipse cx="426.4" cy="187.0" rx="4.8" ry="10.6" transform="rotate(-45.0 426.4 187.0)" fill="none" stroke-width="3.2" />
<ellipse cx="426.4" cy="187.0" rx="4.8" ry="10.6" transform="rotate(-45.0 426.4 187.0)" fill="none" stroke-width="1.1" stroke="#fff"/>
<ellipse cx="427.0" cy="186.4" rx="2.2" ry="7.4" transform="rotate(-45.0 427.0 186.4)" fill="none" stroke-width="1.0" />
<ellipse cx="494.2" cy="117.2" rx="7.3" ry="15.6" transform="rotate(-45.0 494.2 117.2)" fill="none" stroke-width="3.2" />
<ellipse cx="494.2" cy="117.2" rx="7.3" ry="15.6" transform="rotate(-45.0 494.2 117.2)" fill="none" stroke-width="1.1" stroke="#fff"/>
<ellipse cx="486.6" cy="124.8" rx="7.3" ry="15.6" transform="rotate(-45.0 486.6 124.8)" fill="none" stroke-width="3.2" />
<ellipse cx="486.6" cy="124.8" rx="7.3" ry="15.6" transform="rotate(-45.0 486.6 124.8)" fill="none" stroke-width="1.1" stroke="#fff"/>
<ellipse cx="479.1" cy="132.3" rx="7.3" ry="15.6" transform="rotate(-45.0 479.1 132.3)" fill="none" stroke-width="3.2" />
<ellipse cx="479.1" cy="132.3" rx="7.3" ry="15.6" transform="rotate(-45.0 479.1 132.3)" fill="none" stroke-width="1.1" stroke="#fff"/>
<ellipse cx="471.6" cy="139.8" rx="7.3" ry="15.6" transform="rotate(-45.0 471.6 139.8)" fill="none" stroke-width="3.2" />
<ellipse cx="471.6" cy="139.8" rx="7.3" ry="15.6" transform="rotate(-45.0 471.6 139.8)" fill="none" stroke-width="1.1" stroke="#fff"/>
<ellipse cx="464.0" cy="147.4" rx="7.3" ry="15.6" transform="rotate(-45.0 464.0 147.4)" fill="none" stroke-width="3.2" />
<ellipse cx="464.0" cy="147.4" rx="7.3" ry="15.6" transform="rotate(-45.0 464.0 147.4)" fill="none" stroke-width="1.1" stroke="#fff"/>
<ellipse cx="464.6" cy="146.8" rx="4.7" ry="12.4" transform="rotate(-45.0 464.6 146.8)" fill="none" stroke-width="1.0" />
<ellipse cx="432.4" cy="606.0" rx="7.8" ry="11.4" transform="rotate(13.0 432.4 606.0)" fill="none" stroke-width="3.2" />
<ellipse cx="432.4" cy="606.0" rx="7.8" ry="11.4" transform="rotate(13.0 432.4 606.0)" fill="none" stroke-width="1.1" stroke="#fff"/>
<ellipse cx="425.5" cy="603.6" rx="7.8" ry="11.4" transform="rotate(13.0 425.5 603.6)" fill="none" stroke-width="3.2" />
<ellipse cx="425.5" cy="603.6" rx="7.8" ry="11.4" transform="rotate(13.0 425.5 603.6)" fill="none" stroke-width="1.1" stroke="#fff"/>
<ellipse cx="418.6" cy="601.3" rx="7.8" ry="11.4" transform="rotate(13.0 418.6 601.3)" fill="none" stroke-width="3.2" />
<ellipse cx="418.6" cy="601.3" rx="7.8" ry="11.4" transform="rotate(13.0 418.6 601.3)" fill="none" stroke-width="1.1" stroke="#fff"/>
<ellipse cx="411.7" cy="599.0" rx="7.8" ry="11.4" transform="rotate(13.0 411.7 599.0)" fill="none" stroke-width="3.2" />
<ellipse cx="411.7" cy="599.0" rx="7.8" ry="11.4" transform="rotate(13.0 411.7 599.0)" fill="none" stroke-width="1.1" stroke="#fff"/>
<ellipse cx="404.8" cy="596.6" rx="7.8" ry="11.4" transform="rotate(13.0 404.8 596.6)" fill="none" stroke-width="3.2" />
<ellipse cx="404.8" cy="596.6" rx="7.8" ry="11.4" transform="rotate(13.0 404.8 596.6)" fill="none" stroke-width="1.1" stroke="#fff"/>
<ellipse cx="405.6" cy="596.8" rx="5.2" ry="8.2" transform="rotate(13.0 405.6 596.8)" fill="none" stroke-width="1.0" />
<ellipse cx="492.4" cy="630.0" rx="11.2" ry="15.6" transform="rotate(13.0 492.4 630.0)" fill="none" stroke-width="3.2" />
<ellipse cx="492.4" cy="630.0" rx="11.2" ry="15.6" transform="rotate(13.0 492.4 630.0)" fill="none" stroke-width="1.1" stroke="#fff"/>
<ellipse cx="485.0" cy="627.1" rx="11.2" ry="15.6" transform="rotate(13.0 485.0 627.1)" fill="none" stroke-width="3.2" />
<ellipse cx="485.0" cy="627.1" rx="11.2" ry="15.6" transform="rotate(13.0 485.0 627.1)" fill="none" stroke-width="1.1" stroke="#fff"/>
<ellipse cx="477.5" cy="624.2" rx="11.2" ry="15.6" transform="rotate(13.0 477.5 624.2)" fill="none" stroke-width="3.2" />
<ellipse cx="477.5" cy="624.2" rx="11.2" ry="15.6" transform="rotate(13.0 477.5 624.2)" fill="none" stroke-width="1.1" stroke="#fff"/>
<ellipse cx="470.1" cy="621.2" rx="11.2" ry="15.6" transform="rotate(13.0 470.1 621.2)" fill="none" stroke-width="3.2" />
<ellipse cx="470.1" cy="621.2" rx="11.2" ry="15.6" transform="rotate(13.0 470.1 621.2)" fill="none" stroke-width="1.1" stroke="#fff"/>
<ellipse cx="462.6" cy="618.3" rx="11.2" ry="15.6" transform="rotate(13.0 462.6 618.3)" fill="none" stroke-width="3.2" />
<ellipse cx="462.6" cy="618.3" rx="11.2" ry="15.6" transform="rotate(13.0 462.6 618.3)" fill="none" stroke-width="1.1" stroke="#fff"/>
<ellipse cx="455.2" cy="615.4" rx="11.2" ry="15.6" transform="rotate(13.0 455.2 615.4)" fill="none" stroke-width="3.2" />
<ellipse cx="455.2" cy="615.4" rx="11.2" ry="15.6" transform="rotate(13.0 455.2 615.4)" fill="none" stroke-width="1.1" stroke="#fff"/>
<ellipse cx="456.0" cy="615.6" rx="8.6" ry="12.4" transform="rotate(13.0 456.0 615.6)" fill="none" stroke-width="1.0" />
<ellipse cx="413.1" cy="201.9" rx="6.8" ry="15.0" transform="rotate(-45.0 413.1 201.9)" fill="#fff" stroke-width="1.1" />
<path d="M418.6,217.6 L423.7,212.5 L402.5,191.3 L397.4,196.4 Z" fill="#fff" stroke-width="0" stroke="none"/>
<line x1="418.6" y1="217.6" x2="423.7" y2="212.5" stroke-width="1.1" />
<line x1="397.4" y1="196.4" x2="402.5" y2="191.3" stroke-width="1.1" />
<ellipse cx="408.0" cy="207.0" rx="6.8" ry="15.0" transform="rotate(-45.0 408.0 207.0)" fill="#fff" stroke-width="1.1" />
<ellipse cx="408.4" cy="206.6" rx="2.9" ry="6.0" transform="rotate(-45.0 408.4 206.6)" fill="#fff" stroke-width="1.1" />
<path d="M406.9,201.3 A2.9,6.0 -45.0 0 0 413.7,208.1" stroke-width="1.0"/>
<ellipse cx="382.9" cy="587.1" rx="10.8" ry="16.8" transform="rotate(18.0 382.9 587.1)" fill="#fff" stroke-width="1.1" />
<path d="M368.8,600.2 L377.7,603.1 L388.1,571.1 L379.2,568.2 Z" fill="#fff" stroke-width="0" stroke="none"/>
<line x1="368.8" y1="600.2" x2="377.7" y2="603.1" stroke-width="1.1" />
<line x1="379.2" y1="568.2" x2="388.1" y2="571.1" stroke-width="1.1" />
<ellipse cx="374.0" cy="584.2" rx="10.8" ry="16.8" transform="rotate(18.0 374.0 584.2)" fill="#fff" stroke-width="1.1" />
<ellipse cx="374.6" cy="584.4" rx="5.7" ry="8.2" transform="rotate(18.0 374.6 584.4)" fill="#fff" stroke-width="1.1" />
<path d="M379.1,578.9 A5.7,8.2 18.0 0 0 375.0,591.4" stroke-width="1.0"/>
<path d="M370.9,232.1 L376.9,226.1 L379.6,225.9 L380.2,226.6 L382.7,224.1 L385.0,224.4 L389.2,228.6 L389.5,230.9 L387.0,233.4 L387.7,234.0 L387.5,236.7 L381.5,242.7" fill="#fff" stroke-width="1.1" />
<ellipse cx="376.2" cy="237.4" rx="3.4" ry="7.5" transform="rotate(-45.0 376.2 237.4)" fill="#fff" stroke-width="1.1" />
<ellipse cx="376.7" cy="236.9" rx="2.2" ry="5.2" transform="rotate(-45.0 376.7 236.9)" fill="none" stroke-width="0.9" />
<line x1="380.2" y1="226.6" x2="387.0" y2="233.4" stroke-width="0.9" />
<path d="M381.1,241.4 L381.4,238.9 M372.6,232.7 L374.7,232.5" fill="none" stroke-width="1.2" />
<path d="M328.4,557.3 Q334.3,558.6 337.0,561.6 Q338.4,563.5 338.6,564.1 L340.1,564.8 Q341.9,566.2 341.0,569.7 Q339.7,573.0 337.4,573.1 L335.8,572.8 Q335.3,573.2 333.0,573.9 Q329.1,574.7 323.6,572.3 Z" fill="#fff" stroke-width="1.4" />
<path d="M338.5,563.8 Q338.4,568.8 335.5,572.9" fill="none" stroke-width="1.0" />
<ellipse cx="326.0" cy="564.8" rx="5.5" ry="7.9" transform="rotate(18.0 326.0 564.8)" fill="#fff" stroke-width="1.5" />
<ellipse cx="327.6" cy="565.1" rx="2.8" ry="5.5" transform="rotate(18.0 327.6 565.1)" fill="none" stroke-width="1.2" />
<path d="M334.3,559.2 Q334.9,567.7 329.5,574.2" fill="none" stroke-width="1.0" />
<path d="M335.5,560.0 Q336.7,566.2 334.5,569.7" fill="none" stroke-width="1.3" />
<g stroke="none" fill="#222">
<circle cx="325.8" cy="565.3" r="0.4"/>
<circle cx="327.4" cy="566.6" r="0.4"/>
<circle cx="332.9" cy="561.6" r="0.4"/>
<circle cx="321.6" cy="567.6" r="0.4"/>
<circle cx="327.2" cy="561.8" r="0.4"/>
<circle cx="336.5" cy="567.8" r="0.4"/>
<circle cx="334.3" cy="567.2" r="0.4"/>
<circle cx="332.8" cy="562.6" r="0.4"/>
<circle cx="330.1" cy="570.8" r="0.4"/>
<circle cx="329.0" cy="568.8" r="0.4"/>
<circle cx="333.5" cy="561.8" r="0.4"/>
<circle cx="332.8" cy="568.2" r="0.4"/>
<circle cx="328.6" cy="559.7" r="0.4"/>
<circle cx="334.7" cy="567.3" r="0.4"/>
<circle cx="331.2" cy="571.3" r="0.4"/>
<circle cx="331.0" cy="571.7" r="0.4"/>
<circle cx="327.0" cy="568.9" r="0.4"/>
<circle cx="327.2" cy="570.7" r="0.4"/>
<circle cx="336.3" cy="563.1" r="0.4"/>
<circle cx="325.6" cy="561.1" r="0.4"/>
<circle cx="336.2" cy="567.3" r="0.4"/>
<circle cx="332.1" cy="564.3" r="0.4"/>
<circle cx="330.1" cy="564.7" r="0.4"/>
<circle cx="327.2" cy="566.3" r="0.4"/>
<circle cx="329.2" cy="570.9" r="0.4"/>
<circle cx="330.5" cy="571.7" r="0.4"/>
</g>
<ellipse cx="516.7" cy="95.3" rx="7.4" ry="14.2" transform="rotate(-56.0 516.7 95.3)" fill="#fff" stroke-width="1.1" />
<ellipse cx="515.4" cy="96.2" rx="7.4" ry="14.2" transform="rotate(-56.0 515.4 96.2)" fill="#fff" stroke-width="1.1" />
<ellipse cx="513.8" cy="97.4" rx="6.4" ry="12.4" transform="rotate(-56.0 513.8 97.4)" fill="#fff" stroke-width="1.0" />
<ellipse cx="512.0" cy="98.7" rx="5.4" ry="10.4" transform="rotate(-56.0 512.0 98.7)" fill="#fff" stroke-width="1.0" />
<ellipse cx="510.2" cy="100.0" rx="4.5" ry="8.6" transform="rotate(-56.0 510.2 100.0)" fill="#fff" stroke-width="1.0" />
<ellipse cx="508.4" cy="101.3" rx="3.6" ry="7.0" transform="rotate(-56.0 508.4 101.3)" fill="#fff" stroke-width="1.0" />
<path d="M508.6,107.0 L511.7,103.8 L503.8,95.9 L500.6,99.0 Z" fill="#fff" stroke-width="0" stroke="none"/>
<line x1="508.6" y1="107.0" x2="511.7" y2="103.8" stroke-width="1.1" />
<line x1="500.6" y1="99.0" x2="503.8" y2="95.9" stroke-width="1.1" />
<ellipse cx="504.6" cy="103.0" rx="2.8" ry="5.6" transform="rotate(-45.0 504.6 103.0)" fill="#fff" stroke-width="1.1" />
<ellipse cx="505.1" cy="102.5" rx="1.6" ry="4.0" transform="rotate(-45.0 505.1 102.5)" fill="none" stroke-width="0.9" />
<ellipse cx="522.0" cy="640.6" rx="12.6" ry="14.8" transform="rotate(14.0 522.0 640.6)" fill="#fff" stroke-width="1.2" />
<ellipse cx="520.8" cy="640.2" rx="11.4" ry="13.6" transform="rotate(14.0 520.8 640.2)" fill="#fff" stroke-width="1.0" />
<ellipse cx="518.4" cy="639.4" rx="9.6" ry="11.8" transform="rotate(14.0 518.4 639.4)" fill="#fff" stroke-width="1.0" />
<ellipse cx="515.6" cy="638.6" rx="7.8" ry="9.8" transform="rotate(14.0 515.6 638.6)" fill="#fff" stroke-width="1.0" />
<ellipse cx="513.0" cy="637.9" rx="6.2" ry="8.0" transform="rotate(14.0 513.0 637.9)" fill="#fff" stroke-width="1.0" />
<path d="M507.1,643.1 L511.2,644.1 L514.2,631.9 L510.1,630.9 Z" fill="#fff" stroke-width="0" stroke="none"/>
<line x1="507.1" y1="643.1" x2="511.2" y2="644.1" stroke-width="1.1" />
<line x1="510.1" y1="630.9" x2="514.2" y2="631.9" stroke-width="1.1" />
<ellipse cx="508.6" cy="637.0" rx="4.7" ry="6.3" transform="rotate(14.0 508.6 637.0)" fill="#fff" stroke-width="1.2" />
<ellipse cx="508.2" cy="637.0" rx="3.3" ry="4.7" transform="rotate(14.0 508.2 637.0)" fill="none" stroke-width="0.9" />
<path d="M518.7,69.7 L527.2,59.9 L528.6,63.2 L532.5,67.1 L533.2,70.4 L525.9,77.0 L520.7,75.0 L517.4,71.1 Z" fill="#fff" stroke-width="1.1" />
<path d="M518.9,69.4 L527.0,60.4" fill="none" stroke-width="2.6" />
<path d="M521.3,71.7 L528.6,63.8 M525.9,76.3 L526.6,73.0 L532.5,67.8" fill="none" stroke-width="0.9" />
<path d="M545.0,75.0 L551.6,67.1 Q553.4,66.4 554.2,66.8 L559.5,72.4 Q560.4,74.0 560.1,75.7 L552.9,82.9 L550.3,84.5 Q548.0,83.6 548.3,81.6 L545.0,77.0 Z" fill="#fff" stroke-width="1.1" />
<path d="M545.7,76.3 Q549.4,77.6 550.9,82.2 Q550.9,83.6 549.6,84.0" fill="none" stroke-width="1.0" />
<path d="M546.0,78.6 L547.2,80.4" fill="none" stroke-width="1.6" />
<path d="M539.1,639.7 L543.0,637.1 L552.9,640.4 L555.5,642.4 L554.2,643.7 L548.9,642.4 L547.6,645.7 L545.7,650.3 L540.4,649.0 L537.8,644.3 Z" fill="#fff" stroke-width="1.1" />
<path d="M539.4,640.2 Q537.6,644.6 540.8,648.6" fill="none" stroke-width="2.2" />
<path d="M543.6,639.2 Q541.6,643.6 543.8,648.8 M547.0,640.6 Q545.4,643.6 546.2,647.6" fill="none" stroke-width="1.3" />
<path d="M545.6,662.8 L550.2,660.8 L551.6,657.5 Q553.0,655.0 554.8,655.2 L560.8,657.5 Q563.4,659.0 563.2,660.1 L561.4,665.4 Q558.6,668.2 556.8,668.4 L551.6,666.1 L547.6,664.7 Z" fill="#fff" stroke-width="1.1" />
<path d="M550.2,661.0 Q550.8,664.0 551.9,665.6" fill="none" stroke-width="1.0" />
<path d="M546.0,663.0 L549.6,661.6" fill="none" stroke-width="1.8" />
<ellipse cx="370.9" cy="364.2" rx="6.1" ry="10.2" transform="rotate(-20.0 370.9 364.2)" fill="#fff" stroke-width="1.2" />
<ellipse cx="369.1" cy="364.9" rx="6.5" ry="10.8" transform="rotate(-20.0 369.1 364.9)" fill="#fff" stroke-width="1.2" />
<path d="M356.9,357.9 L365.4,354.8 L372.8,375.1 L364.3,378.1 Z" fill="#fff" stroke-width="0" stroke="none"/>
<line x1="356.9" y1="357.9" x2="365.4" y2="354.8" stroke-width="1.2" />
<line x1="364.3" y1="378.1" x2="372.8" y2="375.1" stroke-width="1.2" />
<path d="M363.9,355.3 A6.5,10.8 -20 0 1 371.2,375.6" stroke-width="1.0"/>
<path d="M365.9,355.2 A6.5,10.8 -20 0 1 374.5,369.3" stroke-width="2.0"/>
<path d="M361.6,356.1 A6.5,10.8 -20 0 1 369.0,376.4" stroke-width="0.9" stroke-dasharray="9 7 14 40"/>
<ellipse cx="360.6" cy="368.0" rx="6.5" ry="10.8" transform="rotate(-20.0 360.6 368.0)" fill="#fff" stroke-width="1.3" />
<ellipse cx="360.8" cy="368.5" rx="3.3" ry="5.3" transform="rotate(-20.0 360.8 368.5)" fill="none" stroke-width="2.0" />
<path d="M359.3,365.7 L362.3,370.4" fill="none" stroke-width="1.3" />
<path d="M57.9,344.1 L123.7,369.4 L124.8,370.9 L123.0,375.6 L121.2,375.9 L55.4,350.7" fill="#fff" stroke-width="1.1" />
<path d="M113.5,365.5 Q113.7,369.3 111.0,372.0" fill="none" stroke-width="0.9" />
<path d="M116.3,366.5 Q116.5,370.4 113.8,373.1" fill="none" stroke-width="0.9" />
<path d="M119.1,367.6 Q119.3,371.5 116.6,374.2" fill="none" stroke-width="0.9" />
<line x1="112.5" y1="365.1" x2="110.0" y2="371.6" stroke-width="0.9" />
<ellipse cx="123.0" cy="372.9" rx="1.2" ry="3.1" transform="rotate(21.0 123.0 372.9)" fill="none" stroke-width="0.9" />
<path d="M73.8,350.2 Q71.6,353.2 71.3,356.8" fill="none" stroke-width="0.9" />
<path d="M78.9,352.2 Q76.7,355.1 76.4,358.7" fill="none" stroke-width="0.9" />
<path d="M63.5,346.3 Q60.0,344.4 58.8,339.1" fill="none" stroke-width="1.0" />
<path d="M61.0,352.8 Q57.1,351.9 51.8,354.6" fill="none" stroke-width="1.0" />
<ellipse cx="46.4" cy="343.5" rx="14.9" ry="21.6" transform="rotate(21.0 46.4 343.5)" fill="#fff" stroke-width="1.1" />
<ellipse cx="44.2" cy="342.6" rx="14.9" ry="21.6" transform="rotate(21.0 44.2 342.6)" fill="#fff" stroke-width="1.2" />
<path d="M45.6,336.0 Q42.4,335.2 42.0,338.0 Q42.4,340.8 45.0,340.0" fill="none" stroke-width="1.2" />
<path d="M145.0,483.0 L113.0,516.1 L112.1,516.6 L82.4,546.3 L77.1,541.0 L106.8,511.3 L107.3,510.4 L140.4,478.4 L144.0,479.4 Z" fill="#fff" stroke-width="1.1" />
<path d="M144.0,485.1 Q139.0,484.4 138.3,479.4" fill="none" stroke-width="1.0" />
<path d="M141.6,487.5 Q136.6,486.8 135.9,481.8" fill="none" stroke-width="1.0" />
<path d="M139.2,489.9 Q134.2,489.2 133.5,484.2" fill="none" stroke-width="1.0" />
<path d="M136.8,492.3 Q131.8,491.6 131.1,486.6" fill="none" stroke-width="1.0" />
<path d="M134.6,494.4 Q130.2,493.2 129.0,488.8" fill="none" stroke-width="0.9" />
<path d="M114.7,514.4 Q110.4,513.0 109.0,508.7" fill="none" stroke-width="0.9" />
<path d="M113.0,516.1 Q108.8,514.6 107.3,510.4" fill="none" stroke-width="0.9" />
<ellipse cx="74.0" cy="551.6" rx="24.4" ry="12.4" transform="rotate(45.0 74.0 551.6)" fill="#fff" stroke-width="1.25" />
<path d="M96.9,521.2 L88.5,529.7 Q80.6,536.2 73.6,535.9 L87.4,549.4 Q87.0,543.6 95.8,532.8 L102.2,526.5 Z" fill="#fff" stroke-width="0" stroke="none"/>
<path d="M96.9,521.2 L88.5,529.7 Q80.6,536.4 73.0,535.6" fill="none" stroke-width="1.1" />
<path d="M102.2,526.5 L95.8,532.8 Q87.0,543.6 87.6,549.6" fill="none" stroke-width="1.1" />
<path d="M59.0,533.8 A23.2,11.4 45 0 0 56.4,541.0 A23.2,11.4 45 0 0 89.6,568.6" stroke-width="0.9" transform="translate(1.3,-1.0)"/>
<path d="M77.0,538.8 A23.0,11.0 45 0 1 91.4,565.0" stroke-width="0.9" transform="translate(-1.2,0.6)"/>
<path d="M80.4,561.4 A14.2,6.2 45 0 1 62.4,543.8 A14.2,6.2 45 0 1 68.6,541.6" stroke-width="1.0"/>
<path d="M71.8,542.6 A14.2,6.2 45 0 1 83.8,556.4" stroke-width="1.0"/>
<path d="M76.6,549.4 Q73.0,547.4 71.6,550.0 Q71.8,553.6 75.6,553.8" fill="none" stroke-width="1.0" />
<ellipse cx="152.4" cy="383.9" rx="17.1" ry="23.8" transform="rotate(14.0 152.4 383.9)" fill="#fff" stroke-width="1.1" />
<path d="M140.6,405.5 L146.7,407.0 L158.2,360.8 L152.2,359.3 Z" fill="#fff" stroke-width="0" stroke="none"/>
<line x1="140.6" y1="405.5" x2="146.7" y2="407.0" stroke-width="1.1" />
<line x1="152.2" y1="359.3" x2="158.2" y2="360.8" stroke-width="1.1" />
<ellipse cx="146.4" cy="382.4" rx="17.1" ry="23.8" transform="rotate(14.0 146.4 382.4)" fill="#fff" stroke-width="1.1" />
<ellipse cx="147.2" cy="382.6" rx="15.5" ry="22.0" transform="rotate(14.0 147.2 382.6)" fill="none" stroke-width="0.9" />
<ellipse cx="149.3" cy="383.1" rx="11.4" ry="19.0" transform="rotate(14.0 149.3 383.1)" fill="#fff" stroke-width="1.1" />
<path d="M155.9,366.7 A11.4,19.0 14.0 0 0 147.4,400.7" stroke-width="0.9"/>
<ellipse cx="160.9" cy="460.9" rx="25.2" ry="12.2" transform="rotate(41.0 160.9 460.9)" fill="#fff" stroke-width="1.15" />
<path d="M174.9,482.8 L179.9,477.4 L141.9,444.4 L136.9,449.8 Z" fill="#fff" stroke-width="0" stroke="none"/>
<line x1="174.9" y1="482.8" x2="179.9" y2="477.4" stroke-width="1.1" />
<line x1="136.9" y1="449.8" x2="141.9" y2="444.4" stroke-width="1.1" />
<ellipse cx="155.9" cy="466.3" rx="25.2" ry="12.2" transform="rotate(41.0 155.9 466.3)" fill="#fff" stroke-width="1.15" />
<ellipse cx="156.4" cy="465.8" rx="23.4" ry="10.7" transform="rotate(41.0 156.4 465.8)" fill="none" stroke-width="0.9" />
<ellipse cx="156.8" cy="465.4" rx="20.0" ry="9.0" transform="rotate(41.0 156.8 465.4)" fill="none" stroke-width="1.1" />
<path d="M144.5,450.0 A19.6,8.8 41 0 0 174.1,475.8" stroke-width="1.0"/>
<path d="M106.6,668.6 Q106.4,666.6 109.0,667.0 L111.6,665.8 L165.0,632.0 Q170.6,629.4 175.2,630.8 Q180.6,635.6 183.6,642.4 Q184.8,648.6 181.6,652.8 L140.2,685.0 L137.4,686.8 Z" fill="#fff" stroke-width="1.15" />
<line x1="111.6" y1="665.8" x2="141.2" y2="684.2" stroke-width="1.0" />
<path d="M175.6,630.4 L180.0,628.4 L187.4,624.2 Q190.6,623.8 192.8,626.0 Q195.2,630.0 194.9,633.6 Q194.6,636.8 193.6,637.6 L187.6,642.0 L184.4,643.0 Z" fill="#fff" stroke-width="1.15" />
<path d="M175.6,630.4 Q181.6,634.6 184.4,643.0" fill="none" stroke-width="1.2" />
<path d="M177.8,629.4 Q183.6,633.8 186.0,642.4" fill="none" stroke-width="0.9" />
<path d="M180.0,628.4 Q185.6,633.0 187.6,642.0" fill="none" stroke-width="1.1" />
<line x1="182.4" y1="629.6" x2="189.8" y2="625.2" stroke-width="0.95" />
<line x1="184.2" y1="632.6" x2="192.4" y2="628.0" stroke-width="0.95" />
<line x1="185.8" y1="635.6" x2="194.0" y2="631.4" stroke-width="0.95" />
<line x1="186.9" y1="638.4" x2="194.4" y2="634.6" stroke-width="0.95" />
<line x1="187.4" y1="640.8" x2="192.4" y2="638.2" stroke-width="0.95" />
<path d="M314.2,415.4 L330.6,419.6" fill="none" stroke-width="0.9" />
<line x1="330.6" y1="419.6" x2="344.0" y2="414.4" stroke-width="0.9" />
<line x1="348.0" y1="412.8" x2="376.5" y2="401.0" stroke-width="0.9" />
<line x1="376.5" y1="401.0" x2="382.6" y2="403.0" stroke-width="0.9" />
<path d="M419.8,411.5 L447.0,418.2" fill="none" stroke-width="1.0" />
<path d="M418.9,415.2 L444.1,421.4" fill="none" stroke-width="1.0" />
<path d="M409.7,406.6 L418.2,409.7 L420.9,411.2 L419.7,415.9 L416.6,415.9 L407.6,414.7 Z" fill="#fff" stroke-width="1.1" />
<line x1="418.2" y1="409.7" x2="416.6" y2="415.9" stroke-width="0.9" />
<path d="M403.6,404.2 L408.9,405.6 L410.0,407.3 L408.3,414.3 L406.5,415.3 L401.1,413.9 Z" fill="#fff" stroke-width="1.1" />
<line x1="407.0" y1="405.1" x2="404.5" y2="414.8" stroke-width="0.9" />
<path d="M393.8,402.2 L396.7,400.7 L402.5,402.1 L404.0,404.5 L401.7,413.9 L399.2,415.3 L393.4,413.9 L391.5,411.1 Z" fill="#fff" stroke-width="1.2" />
<path d="M394.2,404.4 L403.1,406.6 M392.9,409.6 L401.8,411.8" fill="none" stroke-width="0.9" />
<path d="M396.7,400.7 Q393.1,406.8 393.4,413.9" fill="none" stroke-width="0.9" />
<path d="M386.0,400.5 L393.7,402.4 L391.6,410.9 L383.9,409.0" fill="#fff" stroke-width="1.1" />
<ellipse cx="385.2" cy="404.8" rx="1.6" ry="4.4" transform="rotate(14.0 385.2 404.8)" fill="#fff" stroke-width="1.1" />
<path d="M388.2,401.0 Q388.9,405.7 386.1,409.5" fill="none" stroke-width="1.0" />
<path d="M389.9,401.4 Q390.6,406.1 387.8,410.0" fill="none" stroke-width="1.0" />
<path d="M391.7,401.9 Q392.4,406.6 389.5,410.4" fill="none" stroke-width="1.0" />
<path d="M493.4,429.4 Q510,434.0 526.4,440.8" fill="none" stroke-width="1.0" />
<path d="M492.6,432.8 Q509,437.4 525.4,444.4" fill="none" stroke-width="1.0" />
<ellipse cx="469.8" cy="428.3" rx="24.4" ry="16.6" transform="rotate(12.0 469.8 428.3)" fill="#fff" stroke-width="1.3" />
<g stroke="none" fill="#111">
<circle cx="463.8" cy="415.2" r="0.5"/>
<circle cx="480.0" cy="415.9" r="0.5"/>
<circle cx="472.4" cy="424.3" r="0.5"/>
<circle cx="448.7" cy="424.1" r="0.5"/>
<circle cx="448.2" cy="421.5" r="0.5"/>
<circle cx="463.9" cy="438.1" r="0.5"/>
<circle cx="453.8" cy="415.5" r="0.5"/>
<circle cx="474.2" cy="425.7" r="0.5"/>
<circle cx="488.4" cy="425.1" r="0.5"/>
<circle cx="458.5" cy="436.6" r="0.5"/>
<circle cx="454.0" cy="427.7" r="0.5"/>
<circle cx="477.3" cy="425.6" r="0.5"/>
<circle cx="475.1" cy="414.6" r="0.5"/>
<circle cx="478.9" cy="427.8" r="0.5"/>
<circle cx="460.3" cy="429.2" r="0.5"/>
<circle cx="468.9" cy="421.3" r="0.5"/>
<circle cx="482.5" cy="437.7" r="0.5"/>
<circle cx="457.1" cy="428.1" r="0.5"/>
<circle cx="468.4" cy="440.7" r="0.5"/>
<circle cx="482.2" cy="423.7" r="0.5"/>
<circle cx="464.1" cy="435.8" r="0.5"/>
<circle cx="453.3" cy="424.4" r="0.5"/>
<circle cx="481.9" cy="433.4" r="0.5"/>
<circle cx="489.0" cy="426.1" r="0.5"/>
<circle cx="478.5" cy="433.3" r="0.5"/>
<circle cx="473.9" cy="427.7" r="0.5"/>
<circle cx="467.4" cy="433.4" r="0.5"/>
<circle cx="486.7" cy="424.6" r="0.5"/>
<circle cx="463.2" cy="432.6" r="0.5"/>
<circle cx="453.8" cy="416.3" r="0.5"/>
<circle cx="462.0" cy="439.3" r="0.5"/>
<circle cx="450.1" cy="422.4" r="0.5"/>
<circle cx="469.5" cy="441.3" r="0.5"/>
<circle cx="459.8" cy="423.3" r="0.5"/>
<circle cx="460.4" cy="439.3" r="0.5"/>
<circle cx="456.2" cy="416.3" r="0.5"/>
<circle cx="457.2" cy="425.1" r="0.5"/>
<circle cx="475.7" cy="421.5" r="0.5"/>
<circle cx="463.1" cy="429.1" r="0.5"/>
<circle cx="469.7" cy="432.3" r="0.5"/>
<circle cx="465.4" cy="423.9" r="0.5"/>
<circle cx="449.9" cy="428.6" r="0.5"/>
<circle cx="458.2" cy="414.4" r="0.5"/>
<circle cx="451.7" cy="419.8" r="0.5"/>
<circle cx="477.7" cy="418.0" r="0.5"/>
<circle cx="459.0" cy="420.8" r="0.5"/>
<circle cx="465.9" cy="414.7" r="0.5"/>
<circle cx="468.3" cy="427.4" r="0.5"/>
<circle cx="463.9" cy="419.1" r="0.5"/>
<circle cx="473.6" cy="417.1" r="0.5"/>
<circle cx="485.8" cy="438.4" r="0.5"/>
<circle cx="459.3" cy="421.5" r="0.5"/>
<circle cx="452.0" cy="433.8" r="0.5"/>
<circle cx="469.4" cy="437.7" r="0.5"/>
<circle cx="463.6" cy="417.6" r="0.5"/>
<circle cx="484.5" cy="441.8" r="0.5"/>
<circle cx="483.3" cy="439.3" r="0.5"/>
<circle cx="456.6" cy="426.1" r="0.5"/>
<circle cx="457.0" cy="432.1" r="0.5"/>
<circle cx="492.0" cy="431.2" r="0.5"/>
<circle cx="458.3" cy="416.6" r="0.5"/>
<circle cx="457.4" cy="415.6" r="0.5"/>
<circle cx="473.0" cy="442.6" r="0.5"/>
<circle cx="486.2" cy="431.1" r="0.5"/>
<circle cx="475.0" cy="439.6" r="0.5"/>
<circle cx="448.9" cy="429.3" r="0.5"/>
<circle cx="481.9" cy="430.1" r="0.5"/>
<circle cx="452.5" cy="434.4" r="0.5"/>
<circle cx="459.7" cy="436.4" r="0.5"/>
<circle cx="462.0" cy="441.8" r="0.5"/>
<circle cx="482.8" cy="419.9" r="0.5"/>
<circle cx="462.3" cy="428.4" r="0.5"/>
<circle cx="468.1" cy="442.7" r="0.5"/>
<circle cx="464.1" cy="439.7" r="0.5"/>
<circle cx="487.4" cy="422.2" r="0.5"/>
<circle cx="459.4" cy="419.1" r="0.5"/>
<circle cx="456.8" cy="428.5" r="0.5"/>
<circle cx="458.9" cy="423.2" r="0.5"/>
<circle cx="463.1" cy="425.5" r="0.5"/>
<circle cx="471.0" cy="442.3" r="0.5"/>
<circle cx="463.1" cy="441.1" r="0.5"/>
<circle cx="469.7" cy="429.4" r="0.5"/>
<circle cx="469.1" cy="417.4" r="0.5"/>
<circle cx="454.3" cy="424.1" r="0.5"/>
<circle cx="480.2" cy="432.4" r="0.5"/>
<circle cx="461.4" cy="427.1" r="0.5"/>
<circle cx="470.5" cy="438.1" r="0.5"/>
<circle cx="450.6" cy="426.3" r="0.5"/>
<circle cx="459.3" cy="418.5" r="0.5"/>
<circle cx="482.7" cy="431.3" r="0.5"/>
<circle cx="471.0" cy="437.4" r="0.5"/>
<circle cx="489.9" cy="430.6" r="0.5"/>
<circle cx="475.1" cy="429.6" r="0.5"/>
<circle cx="469.1" cy="434.7" r="0.5"/>
<circle cx="467.3" cy="428.9" r="0.5"/>
<circle cx="465.7" cy="442.4" r="0.5"/>
<circle cx="476.7" cy="442.5" r="0.5"/>
<circle cx="469.6" cy="443.3" r="0.5"/>
<circle cx="452.1" cy="422.6" r="0.5"/>
<circle cx="448.3" cy="429.5" r="0.5"/>
<circle cx="451.8" cy="431.8" r="0.5"/>
<circle cx="479.9" cy="418.3" r="0.5"/>
<circle cx="465.0" cy="426.9" r="0.5"/>
<circle cx="454.1" cy="422.6" r="0.5"/>
<circle cx="471.7" cy="423.2" r="0.5"/>
<circle cx="456.5" cy="419.3" r="0.5"/>
<circle cx="472.8" cy="426.9" r="0.5"/>
<circle cx="475.6" cy="430.0" r="0.5"/>
<circle cx="452.6" cy="416.7" r="0.5"/>
<circle cx="461.4" cy="413.9" r="0.5"/>
<circle cx="463.2" cy="440.9" r="0.5"/>
<circle cx="486.7" cy="423.7" r="0.5"/>
<circle cx="471.8" cy="435.5" r="0.5"/>
<circle cx="479.3" cy="427.8" r="0.5"/>
<circle cx="474.1" cy="439.5" r="0.5"/>
<circle cx="468.7" cy="422.6" r="0.5"/>
<circle cx="469.4" cy="442.7" r="0.5"/>
<circle cx="461.3" cy="413.9" r="0.5"/>
<circle cx="472.9" cy="420.1" r="0.5"/>
<circle cx="462.2" cy="420.1" r="0.5"/>
<circle cx="483.6" cy="424.1" r="0.5"/>
<circle cx="472.0" cy="417.8" r="0.5"/>
<circle cx="480.6" cy="432.3" r="0.5"/>
<circle cx="455.2" cy="424.3" r="0.5"/>
<circle cx="485.5" cy="429.3" r="0.5"/>
<circle cx="467.3" cy="439.1" r="0.5"/>
<circle cx="464.7" cy="427.4" r="0.5"/>
<circle cx="460.0" cy="437.5" r="0.5"/>
<circle cx="478.7" cy="434.8" r="0.5"/>
<circle cx="466.3" cy="422.4" r="0.5"/>
<circle cx="460.5" cy="414.9" r="0.5"/>
<circle cx="486.3" cy="437.6" r="0.5"/>
<circle cx="461.2" cy="417.7" r="0.5"/>
<circle cx="460.2" cy="424.9" r="0.5"/>
<circle cx="453.8" cy="423.1" r="0.5"/>
<circle cx="492.0" cy="434.6" r="0.5"/>
<circle cx="461.7" cy="421.7" r="0.5"/>
<circle cx="468.6" cy="428.1" r="0.5"/>
<circle cx="455.5" cy="425.4" r="0.5"/>
<circle cx="450.9" cy="420.9" r="0.5"/>
<circle cx="462.3" cy="417.6" r="0.5"/>
<circle cx="473.7" cy="430.1" r="0.5"/>
<circle cx="480.7" cy="436.0" r="0.5"/>
<circle cx="477.5" cy="442.8" r="0.5"/>
<circle cx="465.7" cy="421.5" r="0.5"/>
<circle cx="479.5" cy="435.2" r="0.5"/>
<circle cx="487.6" cy="436.4" r="0.5"/>
<circle cx="478.8" cy="440.8" r="0.5"/>
<circle cx="452.4" cy="425.4" r="0.5"/>
<circle cx="467.7" cy="439.2" r="0.5"/>
<circle cx="482.1" cy="442.0" r="0.5"/>
<circle cx="471.1" cy="441.9" r="0.5"/>
<circle cx="477.2" cy="436.4" r="0.5"/>
<circle cx="453.2" cy="420.1" r="0.5"/>
<circle cx="471.7" cy="433.0" r="0.5"/>
<circle cx="474.6" cy="435.4" r="0.5"/>
<circle cx="482.3" cy="439.4" r="0.5"/>
<circle cx="469.7" cy="429.5" r="0.5"/>
<circle cx="480.4" cy="415.8" r="0.5"/>
<circle cx="482.8" cy="422.7" r="0.5"/>
<circle cx="482.8" cy="421.1" r="0.5"/>
<circle cx="470.3" cy="424.4" r="0.5"/>
<circle cx="467.5" cy="434.1" r="0.5"/>
<circle cx="481.7" cy="434.8" r="0.5"/>
<circle cx="479.5" cy="416.0" r="0.5"/>
<circle cx="454.7" cy="416.7" r="0.5"/>
<circle cx="482.8" cy="424.4" r="0.5"/>
<circle cx="476.7" cy="436.3" r="0.5"/>
<circle cx="479.6" cy="423.3" r="0.5"/>
<circle cx="470.8" cy="427.3" r="0.5"/>
<circle cx="470.8" cy="415.6" r="0.5"/>
<circle cx="469.0" cy="420.3" r="0.5"/>
<circle cx="455.4" cy="428.0" r="0.5"/>
<circle cx="452.5" cy="425.4" r="0.5"/>
<circle cx="485.0" cy="431.8" r="0.5"/>
<circle cx="486.9" cy="438.8" r="0.5"/>
<circle cx="468.8" cy="421.4" r="0.5"/>
<circle cx="453.7" cy="419.6" r="0.5"/>
<circle cx="458.7" cy="437.5" r="0.5"/>
<circle cx="490.4" cy="425.5" r="0.5"/>
<circle cx="464.4" cy="423.5" r="0.5"/>
<circle cx="463.6" cy="424.6" r="0.5"/>
<circle cx="459.5" cy="418.1" r="0.5"/>
<circle cx="472.5" cy="418.3" r="0.5"/>
<circle cx="473.2" cy="443.1" r="0.5"/>
<circle cx="490.5" cy="434.4" r="0.5"/>
<circle cx="481.2" cy="429.1" r="0.5"/>
<circle cx="480.9" cy="435.6" r="0.5"/>
<circle cx="469.6" cy="422.9" r="0.5"/>
<circle cx="458.5" cy="434.0" r="0.5"/>
<circle cx="478.6" cy="423.4" r="0.5"/>
<circle cx="473.3" cy="425.5" r="0.5"/>
<circle cx="471.6" cy="419.2" r="0.5"/>
<circle cx="469.9" cy="416.1" r="0.5"/>
<circle cx="465.1" cy="413.4" r="0.5"/>
<circle cx="459.0" cy="417.8" r="0.5"/>
<circle cx="470.5" cy="441.6" r="0.5"/>
<circle cx="482.3" cy="428.0" r="0.5"/>
<circle cx="465.5" cy="428.2" r="0.5"/>
<circle cx="465.0" cy="421.8" r="0.5"/>
<circle cx="469.1" cy="432.5" r="0.5"/>
<circle cx="489.1" cy="422.8" r="0.5"/>
<circle cx="460.6" cy="417.8" r="0.5"/>
<circle cx="465.4" cy="425.5" r="0.5"/>
<circle cx="488.9" cy="431.4" r="0.5"/>
<circle cx="461.7" cy="441.1" r="0.5"/>
<circle cx="469.6" cy="434.4" r="0.5"/>
<circle cx="475.0" cy="438.4" r="0.5"/>
<circle cx="467.4" cy="429.5" r="0.5"/>
<circle cx="478.1" cy="423.4" r="0.5"/>
<circle cx="453.8" cy="416.5" r="0.5"/>
<circle cx="474.9" cy="436.1" r="0.5"/>
<circle cx="470.4" cy="431.2" r="0.5"/>
<circle cx="466.4" cy="418.2" r="0.5"/>
<circle cx="460.6" cy="425.0" r="0.5"/>
<circle cx="488.3" cy="431.4" r="0.5"/>
<circle cx="458.9" cy="417.4" r="0.5"/>
<circle cx="468.5" cy="433.9" r="0.5"/>
<circle cx="467.7" cy="419.6" r="0.5"/>
<circle cx="474.9" cy="443.8" r="0.5"/>
<circle cx="462.6" cy="424.1" r="0.5"/>
<circle cx="480.6" cy="420.3" r="0.5"/>
<circle cx="482.3" cy="439.1" r="0.5"/>
<circle cx="472.1" cy="418.8" r="0.5"/>
<circle cx="486.9" cy="422.8" r="0.5"/>
<circle cx="454.7" cy="433.9" r="0.5"/>
<circle cx="471.8" cy="418.1" r="0.5"/>
<circle cx="457.2" cy="422.8" r="0.5"/>
<circle cx="453.7" cy="421.3" r="0.5"/>
<circle cx="449.5" cy="420.4" r="0.5"/>
</g>
<path d="M448.9,419.7 L464.7,420.7 L465.7,416.8 L466.6,412.2" fill="none" stroke-width="1.6" />
<path d="M476.5,413.4 L476.5,419.7 L490.3,424.7 L493.3,426.6" fill="none" stroke-width="1.6" />
<path d="M493.3,431.6 L476.5,434.5 L472.6,436.5 L471.6,444.4" fill="none" stroke-width="1.6" />
<path d="M447.9,427.6 L461.7,431.6 L463.7,433.6 L461.7,442.4" fill="none" stroke-width="1.6" />
<path d="M452,417.2 L461.6,417.8 L462.4,414.2 M479.6,415.4 L479.6,417.8 L488,421 M480,437.6 L488.6,435.6 M452,431.4 L458.6,433.4 L458,439.4" fill="none" stroke-width="0.8" />
<rect x="534.3" y="430.6" width="10.6" height="31.5" rx="4.2" ry="4.2" transform="rotate(14 539.6 446.4)" fill="#fff" stroke-width="1.2"/>
<rect x="531.8" y="430.3" width="9.6" height="31.0" rx="4.2" ry="4.2" transform="rotate(14 536.6 445.8)" fill="#fff" stroke-width="1.0"/>
<rect x="529.4" y="430.0" width="8.0" height="30.0" rx="3.6" ry="3.6" transform="rotate(14 533.4 445.0)" fill="#333" stroke-width="2.0"/>
<rect x="522.5" y="428.1" width="11.4" height="31.0" rx="4.4" ry="4.4" transform="rotate(14 528.2 443.6)" fill="#fff" stroke-width="1.2"/>
<g stroke="none" fill="#222">
<circle cx="528.9" cy="454.5" r="0.45"/>
<circle cx="526.8" cy="457.1" r="0.45"/>
<circle cx="532.8" cy="440.0" r="0.45"/>
<circle cx="522.8" cy="454.4" r="0.45"/>
<circle cx="533.3" cy="431.8" r="0.45"/>
<circle cx="530.3" cy="440.8" r="0.45"/>
<circle cx="528.3" cy="438.9" r="0.45"/>
<circle cx="528.8" cy="429.9" r="0.45"/>
<circle cx="527.4" cy="439.3" r="0.45"/>
<circle cx="534.4" cy="434.7" r="0.45"/>
<circle cx="533.9" cy="436.9" r="0.45"/>
<circle cx="524.9" cy="451.7" r="0.45"/>
<circle cx="531.3" cy="442.5" r="0.45"/>
<circle cx="524.7" cy="442.0" r="0.45"/>
<circle cx="524.4" cy="454.3" r="0.45"/>
<circle cx="526.6" cy="439.4" r="0.45"/>
<circle cx="534.5" cy="432.1" r="0.45"/>
<circle cx="525.4" cy="451.6" r="0.45"/>
<circle cx="533.4" cy="432.1" r="0.45"/>
<circle cx="527.3" cy="431.2" r="0.45"/>
<circle cx="533.2" cy="438.1" r="0.45"/>
<circle cx="527.6" cy="454.5" r="0.45"/>
<circle cx="528.4" cy="437.3" r="0.45"/>
<circle cx="531.2" cy="447.6" r="0.45"/>
<circle cx="524.8" cy="448.8" r="0.45"/>
<circle cx="528.2" cy="437.3" r="0.45"/>
<circle cx="522.5" cy="449.3" r="0.45"/>
<circle cx="530.7" cy="448.0" r="0.45"/>
<circle cx="534.9" cy="432.0" r="0.45"/>
<circle cx="526.2" cy="442.4" r="0.45"/>
<circle cx="529.0" cy="456.4" r="0.45"/>
<circle cx="528.9" cy="436.8" r="0.45"/>
<circle cx="527.7" cy="443.3" r="0.45"/>
<circle cx="533.8" cy="436.2" r="0.45"/>
<circle cx="529.1" cy="450.5" r="0.45"/>
<circle cx="529.0" cy="451.4" r="0.45"/>
<circle cx="530.2" cy="439.3" r="0.45"/>
<circle cx="527.6" cy="439.6" r="0.45"/>
<circle cx="533.3" cy="433.1" r="0.45"/>
<circle cx="524.1" cy="449.6" r="0.45"/>
<circle cx="529.0" cy="431.7" r="0.45"/>
<circle cx="524.1" cy="444.0" r="0.45"/>
<circle cx="523.6" cy="455.8" r="0.45"/>
<circle cx="528.1" cy="457.2" r="0.45"/>
<circle cx="529.0" cy="432.2" r="0.45"/>
</g>
<path d="M541.6,432.6 Q538.6,446 540.6,460.6" fill="none" stroke-width="0.9" />
<path d="M546.0,449.2 Q560.4,458.8 561.6,472.6 Q561.0,482.6 540.2,488.6" fill="none" stroke-width="1.0" />
<path d="M546.6,446.2 Q563.8,456.4 565.2,472.6 Q564.4,486.4 541.2,492.2" fill="none" stroke-width="1.0" />
<line x1="540.2" y1="488.6" x2="541.2" y2="492.2" stroke-width="0.9" />
<path d="M535.0,489.2 Q500.0,495.6 471.6,505.8" fill="none" stroke-width="1.0" />
<path d="M535.9,493.0 Q500.6,500.0 472.2,509.8" fill="none" stroke-width="1.0" />
<line x1="535.0" y1="489.2" x2="535.9" y2="493.0" stroke-width="0.9" />
<path d="M448.3,509.7 L466.7,507.1 L466.7,514.3 L448.3,522.9 Z" fill="#fff" stroke-width="1.1" />
<path d="M466.2,506.0 L471.0,505.4 L471.8,514.6 L467.0,515.4 Z" fill="#fff" stroke-width="1.1" />
<path d="M438.4,508.6 L444.0,507.6 L448.4,509.2 L449.0,524.6 L446.0,526.4 L439.0,525.6 Z" fill="#fff" stroke-width="1.1" />
<path d="M430.6,513.0 L437.4,510.0 L445.0,511.0 L446.2,525.0 L438.8,527.2 L431.4,524.8 Z" fill="#fff" stroke-width="1.2" />
<path d="M437.4,510.0 L438.8,527.2" fill="none" stroke-width="1.0" />
<path d="M429.6,516.8 L432.2,516.8 L432.6,521.6 L430.0,521.8" fill="none" stroke-width="1.6" />
<path d="M432.6,515.0 L436.0,514.0 L436.8,524.6 L433.4,524.0 Z" fill="none" stroke-width="0.9" />
<path d="M441.0,512.6 L441.8,523.6" fill="none" stroke-width="0.8" />
</svg>
</body></html>
